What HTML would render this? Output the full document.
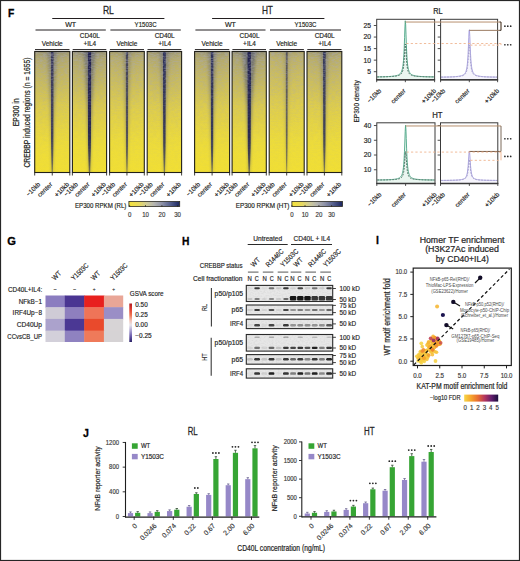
<!DOCTYPE html>
<html><head><meta charset="utf-8"><style>
html,body{margin:0;padding:0;background:#fff;width:520px;height:561px;overflow:hidden}
svg{display:block}
text{font-family:"Liberation Sans", sans-serif}
</style></head><body>
<svg width="520" height="561" viewBox="0 0 520 561">
<defs>
<linearGradient id="hmbase" x1="0" y1="0" x2="0" y2="1"><stop offset="0" stop-color="#cdbd62"/><stop offset="0.2" stop-color="#dac957"/><stop offset="0.5" stop-color="#e6d447"/><stop offset="0.75" stop-color="#eddc3b"/><stop offset="1" stop-color="#f1df34"/></linearGradient>
<linearGradient id="haze" x1="0" y1="0" x2="0" y2="1"><stop offset="0" stop-color="#686c80" stop-opacity="0.78"/><stop offset="0.06" stop-color="#767a8a" stop-opacity="0.52"/><stop offset="0.22" stop-color="#7a7c88" stop-opacity="0.36"/><stop offset="0.45" stop-color="#808080" stop-opacity="0.13"/><stop offset="0.72" stop-color="#808080" stop-opacity="0.02"/><stop offset="0.8" stop-color="#808080" stop-opacity="0"/></linearGradient>
<linearGradient id="hazeh" x1="0" y1="0" x2="1" y2="0"><stop offset="0" stop-color="#fff" stop-opacity="0.75"/><stop offset="0.5" stop-color="#fff" stop-opacity="1"/><stop offset="1" stop-color="#fff" stop-opacity="0.75"/></linearGradient>
<mask id="hazemask" maskContentUnits="objectBoundingBox"><rect width="1" height="1" fill="url(#hazeh)"/></mask>
<linearGradient id="corefade" x1="0" y1="0" x2="0" y2="1"><stop offset="0" stop-color="#fff" stop-opacity="1"/><stop offset="0.7" stop-color="#fff" stop-opacity="0.95"/><stop offset="0.9" stop-color="#fff" stop-opacity="0.75"/><stop offset="1" stop-color="#fff" stop-opacity="0.5"/></linearGradient>
<mask id="coremask" maskContentUnits="objectBoundingBox"><rect width="1" height="1" fill="url(#corefade)"/></mask>
<linearGradient id="noisev" x1="0" y1="0" x2="0" y2="1"><stop offset="0" stop-color="#fff"/><stop offset="0.3" stop-color="#fff" stop-opacity="0.5"/><stop offset="0.6" stop-color="#fff" stop-opacity="0.2"/><stop offset="1" stop-color="#fff" stop-opacity="0.06"/></linearGradient>
<mask id="noisemask" maskContentUnits="objectBoundingBox"><rect width="1" height="1" fill="url(#noisev)"/></mask>
<filter id="hmnoise" x="0" y="0" width="1" height="1"><feTurbulence type="fractalNoise" baseFrequency="0.28 0.75" numOctaves="2" seed="4" result="n"/><feColorMatrix in="n" type="matrix" values="0 0 0 0 0.40  0 0 0 0 0.40  0 0 0 0 0.48  0 0 0 -3.2 1.95"/></filter>
<filter id="coreblur" x="-100%" y="0" width="300%" height="1"><feGaussianBlur stdDeviation="0.45 0"/></filter>
<filter id="coneblur" x="-100%" y="-5%" width="300%" height="110%"><feGaussianBlur stdDeviation="1.8 0"/></filter>
<linearGradient id="epcb" x1="0" y1="0" x2="1" y2="0"><stop offset="0" stop-color="#f5e33a"/><stop offset="0.2" stop-color="#e8da60"/><stop offset="0.35" stop-color="#cfcb98"/><stop offset="0.5" stop-color="#b4b4b0"/><stop offset="0.65" stop-color="#8e92a8"/><stop offset="0.8" stop-color="#5a6490"/><stop offset="1" stop-color="#1a2560"/></linearGradient>
<linearGradient id="gsva" x1="0" y1="0" x2="0" y2="1"><stop offset="0" stop-color="#b01b22"/><stop offset="0.12" stop-color="#d8342a"/><stop offset="0.3" stop-color="#ef7250"/><stop offset="0.45" stop-color="#f0c4b8"/><stop offset="0.56" stop-color="#e6e4ea"/><stop offset="0.72" stop-color="#a49bce"/><stop offset="0.86" stop-color="#6656a8"/><stop offset="1" stop-color="#2b2366"/></linearGradient>
<filter id="bb" x="-50%" y="-100%" width="200%" height="300%"><feGaussianBlur stdDeviation="0.55"/></filter>
<filter id="bgn" x="0" y="0" width="1" height="1"><feTurbulence type="fractalNoise" baseFrequency="0.5 0.9" numOctaves="2" seed="9" result="n"/><feColorMatrix in="n" type="matrix" values="0 0 0 0 0.3  0 0 0 0 0.3  0 0 0 0 0.3  0 0 0 -2.5 1.5"/></filter>
<linearGradient id="infg" x1="0" y1="0" x2="1" y2="0"><stop offset="0.00" stop-color="#f6d648"/><stop offset="0.10" stop-color="#f6bd3a"/><stop offset="0.20" stop-color="#f6a52d"/><stop offset="0.30" stop-color="#ef892f"/><stop offset="0.40" stop-color="#e86e32"/><stop offset="0.50" stop-color="#ce5248"/><stop offset="0.60" stop-color="#b4375f"/><stop offset="0.70" stop-color="#8c2a66"/><stop offset="0.80" stop-color="#641e6e"/><stop offset="0.90" stop-color="#3e1655"/><stop offset="1.00" stop-color="#190f3c"/></linearGradient>
</defs>
<rect width="520" height="561" fill="#fff"/>
<text x="8.00" y="17.00" font-size="11.50" font-weight="bold" fill="#000" stroke="#000" stroke-width="0.30" textLength="6.30" lengthAdjust="spacingAndGlyphs">F</text>
<rect x="34.70" y="51.50" width="35.10" height="121.00" fill="url(#hmbase)"/>
<rect x="34.70" y="51.50" width="35.10" height="121.00" fill="url(#haze)" mask="url(#hazemask)" opacity="0.75"/>
<polygon points="47.75,51.50 56.75,51.50 54.55,105.95 52.85,172.50 51.65,172.50 49.95,105.95" fill="#5a5e78" opacity="0.45" filter="url(#coneblur)"/>
<g mask="url(#coremask)"><polygon points="50.75,51.50 53.75,51.50 53.45,145.88 52.85,172.50 51.65,172.50 51.05,145.88" fill="#34365a" opacity="0.95" filter="url(#coreblur)"/></g>
<g mask="url(#noisemask)"><rect x="34.70" y="51.50" width="35.10" height="121.00" fill="#000" filter="url(#hmnoise)" opacity="0.45"/></g>
<rect x="34.70" y="51.50" width="35.10" height="121.00" fill="none" stroke="#22211a" stroke-width="1.10"/>
<line x1="35.00" y1="49.60" x2="69.50" y2="49.60" stroke="#231f20" stroke-width="1.00"/>
<line x1="34.70" y1="172.50" x2="34.70" y2="175.50" stroke="#2b2a22" stroke-width="0.90"/>
<line x1="52.25" y1="172.50" x2="52.25" y2="175.50" stroke="#2b2a22" stroke-width="0.90"/>
<line x1="69.80" y1="172.50" x2="69.80" y2="175.50" stroke="#2b2a22" stroke-width="0.90"/>
<text transform="translate(40.70 184.80) rotate(-45)" font-size="6.50" text-anchor="end" fill="#262626" stroke="#262626" stroke-width="0.17" textLength="16.80" lengthAdjust="spacingAndGlyphs">−10kb</text>
<text transform="translate(52.75 184.80) rotate(-45)" font-size="6.50" text-anchor="end" fill="#262626" stroke="#262626" stroke-width="0.17" textLength="18.00" lengthAdjust="spacingAndGlyphs">center</text>
<text transform="translate(69.60 184.80) rotate(-45)" font-size="6.50" text-anchor="end" fill="#262626" stroke="#262626" stroke-width="0.17" textLength="17.90" lengthAdjust="spacingAndGlyphs">+10kb</text>
<rect x="72.40" y="51.50" width="34.20" height="121.00" fill="url(#hmbase)"/>
<rect x="72.40" y="51.50" width="34.20" height="121.00" fill="url(#haze)" mask="url(#hazemask)" opacity="0.85"/>
<polygon points="84.00,51.50 95.00,51.50 92.10,105.95 90.15,172.50 88.85,172.50 86.90,105.95" fill="#50546e" opacity="0.55" filter="url(#coneblur)"/>
<g mask="url(#coremask)"><polygon points="87.70,51.50 91.30,51.50 90.90,145.88 90.15,172.50 88.85,172.50 88.10,145.88" fill="#20244f" opacity="1.00" filter="url(#coreblur)"/></g>
<g mask="url(#noisemask)"><rect x="72.40" y="51.50" width="34.20" height="121.00" fill="#000" filter="url(#hmnoise)" opacity="0.45"/></g>
<rect x="72.40" y="51.50" width="34.20" height="121.00" fill="none" stroke="#22211a" stroke-width="1.10"/>
<line x1="72.70" y1="49.60" x2="106.30" y2="49.60" stroke="#231f20" stroke-width="1.00"/>
<line x1="72.40" y1="172.50" x2="72.40" y2="175.50" stroke="#2b2a22" stroke-width="0.90"/>
<line x1="89.50" y1="172.50" x2="89.50" y2="175.50" stroke="#2b2a22" stroke-width="0.90"/>
<line x1="106.60" y1="172.50" x2="106.60" y2="175.50" stroke="#2b2a22" stroke-width="0.90"/>
<text transform="translate(78.40 184.80) rotate(-45)" font-size="6.50" text-anchor="end" fill="#262626" stroke="#262626" stroke-width="0.17" textLength="16.80" lengthAdjust="spacingAndGlyphs">−10kb</text>
<text transform="translate(90.00 184.80) rotate(-45)" font-size="6.50" text-anchor="end" fill="#262626" stroke="#262626" stroke-width="0.17" textLength="18.00" lengthAdjust="spacingAndGlyphs">center</text>
<text transform="translate(106.40 184.80) rotate(-45)" font-size="6.50" text-anchor="end" fill="#262626" stroke="#262626" stroke-width="0.17" textLength="17.90" lengthAdjust="spacingAndGlyphs">+10kb</text>
<rect x="109.60" y="51.50" width="34.70" height="121.00" fill="url(#hmbase)"/>
<rect x="109.60" y="51.50" width="34.70" height="121.00" fill="url(#haze)" mask="url(#hazemask)" opacity="0.60"/>
<polygon points="123.45,51.50 130.45,51.50 129.05,105.95 127.50,172.50 126.40,172.50 124.85,105.95" fill="#60606c" opacity="0.40" filter="url(#coneblur)"/>
<g mask="url(#coremask)"><polygon points="125.65,51.50 128.25,51.50 128.00,145.88 127.50,172.50 126.40,172.50 125.90,145.88" fill="#3e3e56" opacity="0.90" filter="url(#coreblur)"/></g>
<g mask="url(#noisemask)"><rect x="109.60" y="51.50" width="34.70" height="121.00" fill="#000" filter="url(#hmnoise)" opacity="0.45"/></g>
<rect x="109.60" y="51.50" width="34.70" height="121.00" fill="none" stroke="#22211a" stroke-width="1.10"/>
<line x1="109.90" y1="49.60" x2="144.00" y2="49.60" stroke="#231f20" stroke-width="1.00"/>
<line x1="109.60" y1="172.50" x2="109.60" y2="175.50" stroke="#2b2a22" stroke-width="0.90"/>
<line x1="126.95" y1="172.50" x2="126.95" y2="175.50" stroke="#2b2a22" stroke-width="0.90"/>
<line x1="144.30" y1="172.50" x2="144.30" y2="175.50" stroke="#2b2a22" stroke-width="0.90"/>
<text transform="translate(115.60 184.80) rotate(-45)" font-size="6.50" text-anchor="end" fill="#262626" stroke="#262626" stroke-width="0.17" textLength="16.80" lengthAdjust="spacingAndGlyphs">−10kb</text>
<text transform="translate(127.45 184.80) rotate(-45)" font-size="6.50" text-anchor="end" fill="#262626" stroke="#262626" stroke-width="0.17" textLength="18.00" lengthAdjust="spacingAndGlyphs">center</text>
<text transform="translate(144.10 184.80) rotate(-45)" font-size="6.50" text-anchor="end" fill="#262626" stroke="#262626" stroke-width="0.17" textLength="17.90" lengthAdjust="spacingAndGlyphs">+10kb</text>
<rect x="147.20" y="51.50" width="34.40" height="121.00" fill="url(#hmbase)"/>
<rect x="147.20" y="51.50" width="34.40" height="121.00" fill="url(#haze)" mask="url(#hazemask)" opacity="0.70"/>
<polygon points="159.90,51.50 168.90,51.50 166.70,105.95 165.00,172.50 163.80,172.50 162.10,105.95" fill="#585c78" opacity="0.45" filter="url(#coneblur)"/>
<g mask="url(#coremask)"><polygon points="162.90,51.50 165.90,51.50 165.60,145.88 165.00,172.50 163.80,172.50 163.20,145.88" fill="#2a2d58" opacity="0.95" filter="url(#coreblur)"/></g>
<g mask="url(#noisemask)"><rect x="147.20" y="51.50" width="34.40" height="121.00" fill="#000" filter="url(#hmnoise)" opacity="0.45"/></g>
<rect x="147.20" y="51.50" width="34.40" height="121.00" fill="none" stroke="#22211a" stroke-width="1.10"/>
<line x1="147.50" y1="49.60" x2="181.30" y2="49.60" stroke="#231f20" stroke-width="1.00"/>
<line x1="147.20" y1="172.50" x2="147.20" y2="175.50" stroke="#2b2a22" stroke-width="0.90"/>
<line x1="164.40" y1="172.50" x2="164.40" y2="175.50" stroke="#2b2a22" stroke-width="0.90"/>
<line x1="181.60" y1="172.50" x2="181.60" y2="175.50" stroke="#2b2a22" stroke-width="0.90"/>
<text transform="translate(153.20 184.80) rotate(-45)" font-size="6.50" text-anchor="end" fill="#262626" stroke="#262626" stroke-width="0.17" textLength="16.80" lengthAdjust="spacingAndGlyphs">−10kb</text>
<text transform="translate(164.90 184.80) rotate(-45)" font-size="6.50" text-anchor="end" fill="#262626" stroke="#262626" stroke-width="0.17" textLength="18.00" lengthAdjust="spacingAndGlyphs">center</text>
<text transform="translate(181.40 184.80) rotate(-45)" font-size="6.50" text-anchor="end" fill="#262626" stroke="#262626" stroke-width="0.17" textLength="17.90" lengthAdjust="spacingAndGlyphs">+10kb</text>
<rect x="194.60" y="51.50" width="35.00" height="121.00" fill="url(#hmbase)"/>
<rect x="194.60" y="51.50" width="35.00" height="121.00" fill="url(#haze)" mask="url(#hazemask)" opacity="0.70"/>
<polygon points="208.10,51.50 216.10,51.50 214.40,105.95 212.70,172.50 211.50,172.50 209.80,105.95" fill="#5a5e78" opacity="0.45" filter="url(#coneblur)"/>
<g mask="url(#coremask)"><polygon points="210.60,51.50 213.60,51.50 213.30,145.88 212.70,172.50 211.50,172.50 210.90,145.88" fill="#2a2d58" opacity="0.95" filter="url(#coreblur)"/></g>
<g mask="url(#noisemask)"><rect x="194.60" y="51.50" width="35.00" height="121.00" fill="#000" filter="url(#hmnoise)" opacity="0.45"/></g>
<rect x="194.60" y="51.50" width="35.00" height="121.00" fill="none" stroke="#22211a" stroke-width="1.10"/>
<line x1="194.90" y1="49.60" x2="229.30" y2="49.60" stroke="#231f20" stroke-width="1.00"/>
<line x1="194.60" y1="172.50" x2="194.60" y2="175.50" stroke="#2b2a22" stroke-width="0.90"/>
<line x1="212.10" y1="172.50" x2="212.10" y2="175.50" stroke="#2b2a22" stroke-width="0.90"/>
<line x1="229.60" y1="172.50" x2="229.60" y2="175.50" stroke="#2b2a22" stroke-width="0.90"/>
<text transform="translate(200.60 184.80) rotate(-45)" font-size="6.50" text-anchor="end" fill="#262626" stroke="#262626" stroke-width="0.17" textLength="16.80" lengthAdjust="spacingAndGlyphs">−10kb</text>
<text transform="translate(212.60 184.80) rotate(-45)" font-size="6.50" text-anchor="end" fill="#262626" stroke="#262626" stroke-width="0.17" textLength="18.00" lengthAdjust="spacingAndGlyphs">center</text>
<text transform="translate(229.40 184.80) rotate(-45)" font-size="6.50" text-anchor="end" fill="#262626" stroke="#262626" stroke-width="0.17" textLength="17.90" lengthAdjust="spacingAndGlyphs">+10kb</text>
<rect x="232.10" y="51.50" width="34.20" height="121.00" fill="url(#hmbase)"/>
<rect x="232.10" y="51.50" width="34.20" height="121.00" fill="url(#haze)" mask="url(#hazemask)" opacity="0.90"/>
<polygon points="242.70,51.50 255.70,51.50 251.90,105.95 249.85,172.50 248.55,172.50 246.50,105.95" fill="#50546e" opacity="0.60" filter="url(#coneblur)"/>
<g mask="url(#coremask)"><polygon points="247.30,51.50 251.10,51.50 250.65,145.88 249.85,172.50 248.55,172.50 247.75,145.88" fill="#20244f" opacity="1.00" filter="url(#coreblur)"/></g>
<g mask="url(#noisemask)"><rect x="232.10" y="51.50" width="34.20" height="121.00" fill="#000" filter="url(#hmnoise)" opacity="0.45"/></g>
<rect x="232.10" y="51.50" width="34.20" height="121.00" fill="none" stroke="#22211a" stroke-width="1.10"/>
<line x1="232.40" y1="49.60" x2="266.00" y2="49.60" stroke="#231f20" stroke-width="1.00"/>
<line x1="232.10" y1="172.50" x2="232.10" y2="175.50" stroke="#2b2a22" stroke-width="0.90"/>
<line x1="249.20" y1="172.50" x2="249.20" y2="175.50" stroke="#2b2a22" stroke-width="0.90"/>
<line x1="266.30" y1="172.50" x2="266.30" y2="175.50" stroke="#2b2a22" stroke-width="0.90"/>
<text transform="translate(238.10 184.80) rotate(-45)" font-size="6.50" text-anchor="end" fill="#262626" stroke="#262626" stroke-width="0.17" textLength="16.80" lengthAdjust="spacingAndGlyphs">−10kb</text>
<text transform="translate(249.70 184.80) rotate(-45)" font-size="6.50" text-anchor="end" fill="#262626" stroke="#262626" stroke-width="0.17" textLength="18.00" lengthAdjust="spacingAndGlyphs">center</text>
<text transform="translate(266.10 184.80) rotate(-45)" font-size="6.50" text-anchor="end" fill="#262626" stroke="#262626" stroke-width="0.17" textLength="17.90" lengthAdjust="spacingAndGlyphs">+10kb</text>
<rect x="269.20" y="51.50" width="35.00" height="121.00" fill="url(#hmbase)"/>
<rect x="269.20" y="51.50" width="35.00" height="121.00" fill="url(#haze)" mask="url(#hazemask)" opacity="0.45"/>
<polygon points="284.20,51.50 289.20,51.50 288.60,105.95 287.20,172.50 286.20,172.50 284.80,105.95" fill="#707070" opacity="0.30" filter="url(#coneblur)"/>
<g mask="url(#coremask)"><polygon points="285.60,51.50 287.80,51.50 287.65,145.88 287.20,172.50 286.20,172.50 285.75,145.88" fill="#4a4858" opacity="0.85" filter="url(#coreblur)"/></g>
<g mask="url(#noisemask)"><rect x="269.20" y="51.50" width="35.00" height="121.00" fill="#000" filter="url(#hmnoise)" opacity="0.45"/></g>
<rect x="269.20" y="51.50" width="35.00" height="121.00" fill="none" stroke="#22211a" stroke-width="1.10"/>
<line x1="269.50" y1="49.60" x2="303.90" y2="49.60" stroke="#231f20" stroke-width="1.00"/>
<line x1="269.20" y1="172.50" x2="269.20" y2="175.50" stroke="#2b2a22" stroke-width="0.90"/>
<line x1="286.70" y1="172.50" x2="286.70" y2="175.50" stroke="#2b2a22" stroke-width="0.90"/>
<line x1="304.20" y1="172.50" x2="304.20" y2="175.50" stroke="#2b2a22" stroke-width="0.90"/>
<text transform="translate(275.20 184.80) rotate(-45)" font-size="6.50" text-anchor="end" fill="#262626" stroke="#262626" stroke-width="0.17" textLength="16.80" lengthAdjust="spacingAndGlyphs">−10kb</text>
<text transform="translate(287.20 184.80) rotate(-45)" font-size="6.50" text-anchor="end" fill="#262626" stroke="#262626" stroke-width="0.17" textLength="18.00" lengthAdjust="spacingAndGlyphs">center</text>
<text transform="translate(304.00 184.80) rotate(-45)" font-size="6.50" text-anchor="end" fill="#262626" stroke="#262626" stroke-width="0.17" textLength="17.90" lengthAdjust="spacingAndGlyphs">+10kb</text>
<rect x="307.00" y="51.50" width="34.80" height="121.00" fill="url(#hmbase)"/>
<rect x="307.00" y="51.50" width="34.80" height="121.00" fill="url(#haze)" mask="url(#hazemask)" opacity="0.60"/>
<polygon points="320.40,51.50 328.40,51.50 326.60,105.95 324.95,172.50 323.85,172.50 322.20,105.95" fill="#5c5e78" opacity="0.42" filter="url(#coneblur)"/>
<g mask="url(#coremask)"><polygon points="323.00,51.50 325.80,51.50 325.55,145.88 324.95,172.50 323.85,172.50 323.25,145.88" fill="#2d3058" opacity="0.92" filter="url(#coreblur)"/></g>
<g mask="url(#noisemask)"><rect x="307.00" y="51.50" width="34.80" height="121.00" fill="#000" filter="url(#hmnoise)" opacity="0.45"/></g>
<rect x="307.00" y="51.50" width="34.80" height="121.00" fill="none" stroke="#22211a" stroke-width="1.10"/>
<line x1="307.30" y1="49.60" x2="341.50" y2="49.60" stroke="#231f20" stroke-width="1.00"/>
<line x1="307.00" y1="172.50" x2="307.00" y2="175.50" stroke="#2b2a22" stroke-width="0.90"/>
<line x1="324.40" y1="172.50" x2="324.40" y2="175.50" stroke="#2b2a22" stroke-width="0.90"/>
<line x1="341.80" y1="172.50" x2="341.80" y2="175.50" stroke="#2b2a22" stroke-width="0.90"/>
<text transform="translate(313.00 184.80) rotate(-45)" font-size="6.50" text-anchor="end" fill="#262626" stroke="#262626" stroke-width="0.17" textLength="16.80" lengthAdjust="spacingAndGlyphs">−10kb</text>
<text transform="translate(324.90 184.80) rotate(-45)" font-size="6.50" text-anchor="end" fill="#262626" stroke="#262626" stroke-width="0.17" textLength="18.00" lengthAdjust="spacingAndGlyphs">center</text>
<text transform="translate(341.60 184.80) rotate(-45)" font-size="6.50" text-anchor="end" fill="#262626" stroke="#262626" stroke-width="0.17" textLength="17.90" lengthAdjust="spacingAndGlyphs">+10kb</text>
<text x="108.40" y="13.90" font-size="10.40" text-anchor="middle" fill="#262626" stroke="#262626" stroke-width="0.27" textLength="11.00" lengthAdjust="spacingAndGlyphs">RL</text>
<line x1="52.25" y1="18.50" x2="164.40" y2="18.50" stroke="#231f20" stroke-width="1.00"/>
<text x="70.65" y="26.50" font-size="7.40" text-anchor="middle" fill="#231f20" stroke="#231f20" stroke-width="0.19" textLength="11.00" lengthAdjust="spacingAndGlyphs">WT</text>
<line x1="35.50" y1="30.00" x2="105.80" y2="30.00" stroke="#231f20" stroke-width="1.00"/>
<text x="145.60" y="26.50" font-size="7.40" text-anchor="middle" fill="#231f20" stroke="#231f20" stroke-width="0.19" textLength="22.00" lengthAdjust="spacingAndGlyphs">Y1503C</text>
<line x1="110.40" y1="30.00" x2="180.80" y2="30.00" stroke="#231f20" stroke-width="1.00"/>
<text x="52.25" y="45.80" font-size="7.40" text-anchor="middle" fill="#231f20" stroke="#231f20" stroke-width="0.19" textLength="21.00" lengthAdjust="spacingAndGlyphs">Vehicle</text>
<text x="126.95" y="45.80" font-size="7.40" text-anchor="middle" fill="#231f20" stroke="#231f20" stroke-width="0.19" textLength="21.00" lengthAdjust="spacingAndGlyphs">Vehicle</text>
<text x="89.80" y="38.20" font-size="7.40" text-anchor="middle" fill="#231f20" stroke="#231f20" stroke-width="0.19" textLength="20.00" lengthAdjust="spacingAndGlyphs">CD40L</text>
<text x="89.80" y="45.80" font-size="7.40" text-anchor="middle" fill="#231f20" stroke="#231f20" stroke-width="0.19" textLength="12.80" lengthAdjust="spacingAndGlyphs">+IL4</text>
<text x="164.70" y="38.20" font-size="7.40" text-anchor="middle" fill="#231f20" stroke="#231f20" stroke-width="0.19" textLength="20.00" lengthAdjust="spacingAndGlyphs">CD40L</text>
<text x="164.70" y="45.80" font-size="7.40" text-anchor="middle" fill="#231f20" stroke="#231f20" stroke-width="0.19" textLength="12.80" lengthAdjust="spacingAndGlyphs">+IL4</text>
<text x="267.40" y="13.90" font-size="10.40" text-anchor="middle" fill="#262626" stroke="#262626" stroke-width="0.27" textLength="11.00" lengthAdjust="spacingAndGlyphs">HT</text>
<line x1="212.10" y1="18.50" x2="324.40" y2="18.50" stroke="#231f20" stroke-width="1.00"/>
<text x="230.45" y="26.50" font-size="7.40" text-anchor="middle" fill="#231f20" stroke="#231f20" stroke-width="0.19" textLength="11.00" lengthAdjust="spacingAndGlyphs">WT</text>
<line x1="195.40" y1="30.00" x2="265.50" y2="30.00" stroke="#231f20" stroke-width="1.00"/>
<text x="305.50" y="26.50" font-size="7.40" text-anchor="middle" fill="#231f20" stroke="#231f20" stroke-width="0.19" textLength="22.00" lengthAdjust="spacingAndGlyphs">Y1503C</text>
<line x1="270.00" y1="30.00" x2="341.00" y2="30.00" stroke="#231f20" stroke-width="1.00"/>
<text x="212.10" y="45.80" font-size="7.40" text-anchor="middle" fill="#231f20" stroke="#231f20" stroke-width="0.19" textLength="21.00" lengthAdjust="spacingAndGlyphs">Vehicle</text>
<text x="286.70" y="45.80" font-size="7.40" text-anchor="middle" fill="#231f20" stroke="#231f20" stroke-width="0.19" textLength="21.00" lengthAdjust="spacingAndGlyphs">Vehicle</text>
<text x="249.50" y="38.20" font-size="7.40" text-anchor="middle" fill="#231f20" stroke="#231f20" stroke-width="0.19" textLength="20.00" lengthAdjust="spacingAndGlyphs">CD40L</text>
<text x="249.50" y="45.80" font-size="7.40" text-anchor="middle" fill="#231f20" stroke="#231f20" stroke-width="0.19" textLength="12.80" lengthAdjust="spacingAndGlyphs">+IL4</text>
<text x="324.70" y="38.20" font-size="7.40" text-anchor="middle" fill="#231f20" stroke="#231f20" stroke-width="0.19" textLength="20.00" lengthAdjust="spacingAndGlyphs">CD40L</text>
<text x="324.70" y="45.80" font-size="7.40" text-anchor="middle" fill="#231f20" stroke="#231f20" stroke-width="0.19" textLength="12.80" lengthAdjust="spacingAndGlyphs">+IL4</text>
<text transform="translate(19.40 112.30) rotate(-90)" font-size="8.30" text-anchor="middle" fill="#231f20" stroke="#231f20" stroke-width="0.21" textLength="28.00" lengthAdjust="spacingAndGlyphs">EP300 in</text>
<text transform="translate(29.50 112.50) rotate(-90)" font-size="8.30" text-anchor="middle" fill="#231f20" stroke="#231f20" stroke-width="0.21" textLength="110.00" lengthAdjust="spacingAndGlyphs">CREBBP induced regions (n = 1655)</text>
<rect x="128.90" y="201.50" width="50.80" height="5.00" fill="url(#epcb)" stroke="#2b2a22" stroke-width="0.80"/>
<text x="126.40" y="207.60" font-size="6.60" text-anchor="end" fill="#231f20" stroke="#231f20" stroke-width="0.17" textLength="51.40" lengthAdjust="spacingAndGlyphs">EP300 RPKM (RL)</text>
<line x1="129.60" y1="205.00" x2="129.60" y2="207.00" stroke="#2b2a22" stroke-width="0.70"/>
<text x="129.60" y="217.30" font-size="6.60" text-anchor="middle" fill="#3a3a3a" stroke="#3a3a3a" stroke-width="0.17" textLength="3.38" lengthAdjust="spacingAndGlyphs">0</text>
<line x1="145.50" y1="205.00" x2="145.50" y2="207.00" stroke="#2b2a22" stroke-width="0.70"/>
<text x="145.50" y="217.30" font-size="6.60" text-anchor="middle" fill="#3a3a3a" stroke="#3a3a3a" stroke-width="0.17" textLength="6.75" lengthAdjust="spacingAndGlyphs">10</text>
<line x1="161.90" y1="205.00" x2="161.90" y2="207.00" stroke="#2b2a22" stroke-width="0.70"/>
<text x="161.90" y="217.30" font-size="6.60" text-anchor="middle" fill="#3a3a3a" stroke="#3a3a3a" stroke-width="0.17" textLength="6.75" lengthAdjust="spacingAndGlyphs">20</text>
<line x1="177.60" y1="205.00" x2="177.60" y2="207.00" stroke="#2b2a22" stroke-width="0.70"/>
<text x="177.60" y="217.30" font-size="6.60" text-anchor="middle" fill="#3a3a3a" stroke="#3a3a3a" stroke-width="0.17" textLength="6.75" lengthAdjust="spacingAndGlyphs">30</text>
<rect x="291.90" y="201.50" width="50.60" height="5.00" fill="url(#epcb)" stroke="#2b2a22" stroke-width="0.80"/>
<text x="289.40" y="207.60" font-size="6.60" text-anchor="end" fill="#231f20" stroke="#231f20" stroke-width="0.17" textLength="53.60" lengthAdjust="spacingAndGlyphs">EP300 RPKM (HT)</text>
<line x1="291.90" y1="205.00" x2="291.90" y2="207.00" stroke="#2b2a22" stroke-width="0.70"/>
<text x="291.90" y="217.30" font-size="6.60" text-anchor="middle" fill="#3a3a3a" stroke="#3a3a3a" stroke-width="0.17" textLength="3.38" lengthAdjust="spacingAndGlyphs">0</text>
<line x1="305.00" y1="205.00" x2="305.00" y2="207.00" stroke="#2b2a22" stroke-width="0.70"/>
<text x="305.00" y="217.30" font-size="6.60" text-anchor="middle" fill="#3a3a3a" stroke="#3a3a3a" stroke-width="0.17" textLength="6.75" lengthAdjust="spacingAndGlyphs">10</text>
<line x1="318.90" y1="205.00" x2="318.90" y2="207.00" stroke="#2b2a22" stroke-width="0.70"/>
<text x="318.90" y="217.30" font-size="6.60" text-anchor="middle" fill="#3a3a3a" stroke="#3a3a3a" stroke-width="0.17" textLength="6.75" lengthAdjust="spacingAndGlyphs">20</text>
<line x1="331.60" y1="205.00" x2="331.60" y2="207.00" stroke="#2b2a22" stroke-width="0.70"/>
<text x="331.60" y="217.30" font-size="6.60" text-anchor="middle" fill="#3a3a3a" stroke="#3a3a3a" stroke-width="0.17" textLength="6.75" lengthAdjust="spacingAndGlyphs">30</text>
<polygon points="377.20,79.80 377.20,76.86 377.56,76.86 377.91,76.85 378.27,76.85 378.62,76.84 378.98,76.83 379.33,76.83 379.69,76.82 380.05,76.82 380.40,76.81 380.76,76.80 381.11,76.80 381.47,76.79 381.82,76.78 382.18,76.77 382.53,76.76 382.89,76.75 383.25,76.75 383.60,76.74 383.96,76.73 384.31,76.72 384.67,76.70 385.02,76.69 385.38,76.68 385.74,76.67 386.09,76.65 386.45,76.64 386.80,76.63 387.16,76.61 387.51,76.59 387.87,76.58 388.22,76.56 388.58,76.54 388.94,76.52 389.29,76.50 389.65,76.48 390.00,76.45 390.36,76.43 390.71,76.40 391.07,76.38 391.43,76.35 391.78,76.31 392.14,76.28 392.49,76.24 392.85,76.21 393.20,76.17 393.56,76.12 393.91,76.07 394.27,76.02 394.63,75.97 394.98,75.91 395.34,75.84 395.69,75.77 396.05,75.69 396.40,75.61 396.76,75.51 397.12,75.41 397.47,75.29 397.83,75.16 398.18,75.01 398.54,74.84 398.89,74.65 399.25,74.42 399.60,74.16 399.96,73.86 400.32,73.49 400.67,73.06 401.03,72.52 401.38,71.86 401.74,71.02 402.09,69.95 402.45,68.54 402.81,66.65 403.16,64.04 403.52,60.36 403.87,55.11 404.23,47.64 404.58,37.68 404.94,26.94 405.29,20.79 405.35,22.04 405.65,24.20 406.01,34.23 406.36,44.77 406.72,53.04 407.07,58.92 407.43,63.02 407.78,65.92 408.14,68.01 408.50,69.55 408.85,70.72 409.21,71.62 409.56,72.33 409.92,72.90 410.27,73.37 410.63,73.75 410.98,74.07 411.34,74.35 411.70,74.58 412.05,74.78 412.41,74.96 412.76,75.11 413.12,75.25 413.47,75.37 413.83,75.48 414.19,75.58 414.54,75.67 414.90,75.75 415.25,75.82 415.61,75.89 415.96,75.95 416.32,76.01 416.67,76.06 417.03,76.11 417.39,76.15 417.74,76.19 418.10,76.23 418.45,76.27 418.81,76.30 419.16,76.34 419.52,76.37 419.88,76.39 420.23,76.42 420.59,76.45 420.94,76.47 421.30,76.49 421.65,76.51 422.01,76.53 422.36,76.55 422.72,76.57 423.08,76.59 423.43,76.61 423.79,76.62 424.14,76.64 424.50,76.65 424.85,76.66 425.21,76.68 425.56,76.69 425.92,76.70 426.28,76.71 426.63,76.72 426.99,76.73 427.34,76.74 427.70,76.75 428.05,76.76 428.41,76.77 428.77,76.78 429.12,76.79 429.48,76.79 429.83,76.80 430.19,76.81 430.54,76.81 430.90,76.82 431.25,76.83 431.61,76.83 431.97,76.84 432.32,76.84 432.68,76.85 433.03,76.85 433.39,76.86 433.74,76.86 434.10,76.87 434.10,79.80" fill="#eaf6f0"/>
<polyline points="377.20,76.86 377.56,76.86 377.91,76.85 378.27,76.85 378.62,76.84 378.98,76.83 379.33,76.83 379.69,76.82 380.05,76.82 380.40,76.81 380.76,76.80 381.11,76.80 381.47,76.79 381.82,76.78 382.18,76.77 382.53,76.76 382.89,76.75 383.25,76.75 383.60,76.74 383.96,76.73 384.31,76.72 384.67,76.70 385.02,76.69 385.38,76.68 385.74,76.67 386.09,76.65 386.45,76.64 386.80,76.63 387.16,76.61 387.51,76.59 387.87,76.58 388.22,76.56 388.58,76.54 388.94,76.52 389.29,76.50 389.65,76.48 390.00,76.45 390.36,76.43 390.71,76.40 391.07,76.38 391.43,76.35 391.78,76.31 392.14,76.28 392.49,76.24 392.85,76.21 393.20,76.17 393.56,76.12 393.91,76.07 394.27,76.02 394.63,75.97 394.98,75.91 395.34,75.84 395.69,75.77 396.05,75.69 396.40,75.61 396.76,75.51 397.12,75.41 397.47,75.29 397.83,75.16 398.18,75.01 398.54,74.84 398.89,74.65 399.25,74.42 399.60,74.16 399.96,73.86 400.32,73.49 400.67,73.06 401.03,72.52 401.38,71.86 401.74,71.02 402.09,69.95 402.45,68.54 402.81,66.65 403.16,64.04 403.52,60.36 403.87,55.11 404.23,47.64 404.58,37.68 404.94,26.94 405.29,20.79 405.35,22.04 405.65,24.20 406.01,34.23 406.36,44.77 406.72,53.04 407.07,58.92 407.43,63.02 407.78,65.92 408.14,68.01 408.50,69.55 408.85,70.72 409.21,71.62 409.56,72.33 409.92,72.90 410.27,73.37 410.63,73.75 410.98,74.07 411.34,74.35 411.70,74.58 412.05,74.78 412.41,74.96 412.76,75.11 413.12,75.25 413.47,75.37 413.83,75.48 414.19,75.58 414.54,75.67 414.90,75.75 415.25,75.82 415.61,75.89 415.96,75.95 416.32,76.01 416.67,76.06 417.03,76.11 417.39,76.15 417.74,76.19 418.10,76.23 418.45,76.27 418.81,76.30 419.16,76.34 419.52,76.37 419.88,76.39 420.23,76.42 420.59,76.45 420.94,76.47 421.30,76.49 421.65,76.51 422.01,76.53 422.36,76.55 422.72,76.57 423.08,76.59 423.43,76.61 423.79,76.62 424.14,76.64 424.50,76.65 424.85,76.66 425.21,76.68 425.56,76.69 425.92,76.70 426.28,76.71 426.63,76.72 426.99,76.73 427.34,76.74 427.70,76.75 428.05,76.76 428.41,76.77 428.77,76.78 429.12,76.79 429.48,76.79 429.83,76.80 430.19,76.81 430.54,76.81 430.90,76.82 431.25,76.83 431.61,76.83 431.97,76.84 432.32,76.84 432.68,76.85 433.03,76.85 433.39,76.86 433.74,76.86 434.10,76.87" fill="none" stroke="#4aa585" stroke-width="0.9"/>
<polyline points="377.20,76.90 377.56,76.90 377.91,76.89 378.27,76.89 378.62,76.88 378.98,76.88 379.33,76.87 379.69,76.87 380.05,76.86 380.40,76.86 380.76,76.85 381.11,76.85 381.47,76.84 381.82,76.84 382.18,76.83 382.53,76.82 382.89,76.82 383.25,76.81 383.60,76.80 383.96,76.79 384.31,76.78 384.67,76.78 385.02,76.77 385.38,76.76 385.74,76.75 386.09,76.74 386.45,76.73 386.80,76.72 387.16,76.70 387.51,76.69 387.87,76.68 388.22,76.66 388.58,76.65 388.94,76.63 389.29,76.62 389.65,76.60 390.00,76.58 390.36,76.57 390.71,76.55 391.07,76.53 391.43,76.50 391.78,76.48 392.14,76.46 392.49,76.43 392.85,76.40 393.20,76.37 393.56,76.34 393.91,76.31 394.27,76.27 394.63,76.23 394.98,76.19 395.34,76.15 395.69,76.10 396.05,76.04 396.40,75.99 396.76,75.92 397.12,75.85 397.47,75.78 397.83,75.69 398.18,75.59 398.54,75.49 398.89,75.36 399.25,75.22 399.60,75.06 399.96,74.87 400.32,74.65 400.67,74.39 401.03,74.06 401.38,73.67 401.74,73.17 402.09,72.54 402.45,71.71 402.81,70.60 403.16,69.08 403.52,66.95 403.87,63.90 404.23,59.58 404.58,53.83 404.94,47.63 405.29,44.06 405.35,45.37 405.65,46.04 406.01,51.84 406.36,57.93 406.72,62.71 407.07,66.11 407.43,68.49 407.78,70.18 408.14,71.40 408.50,72.30 408.85,72.99 409.21,73.53 409.56,73.95 409.92,74.29 410.27,74.57 410.63,74.81 410.98,75.01 411.34,75.18 411.70,75.32 412.05,75.45 412.41,75.56 412.76,75.66 413.12,75.75 413.47,75.83 413.83,75.90 414.19,75.97 414.54,76.03 414.90,76.08 415.25,76.13 415.61,76.18 415.96,76.22 416.32,76.26 416.67,76.30 417.03,76.33 417.39,76.36 417.74,76.39 418.10,76.42 418.45,76.45 418.81,76.47 419.16,76.50 419.52,76.52 419.88,76.54 420.23,76.56 420.59,76.58 420.94,76.60 421.30,76.61 421.65,76.63 422.01,76.65 422.36,76.66 422.72,76.67 423.08,76.69 423.43,76.70 423.79,76.71 424.14,76.72 424.50,76.73 424.85,76.74 425.21,76.75 425.56,76.76 425.92,76.77 426.28,76.78 426.63,76.79 426.99,76.80 427.34,76.81 427.70,76.81 428.05,76.82 428.41,76.83 428.77,76.83 429.12,76.84 429.48,76.85 429.83,76.85 430.19,76.86 430.54,76.86 430.90,76.87 431.25,76.87 431.61,76.88 431.97,76.88 432.32,76.89 432.68,76.89 433.03,76.89 433.39,76.90 433.74,76.90 434.10,76.91" fill="none" stroke="#3f6356" stroke-width="0.9" stroke-dasharray="1.8 1.2"/>
<rect x="376.70" y="19.30" width="57.90" height="60.50" fill="none" stroke="#3a3a3a" stroke-width="1.00"/>
<line x1="376.20" y1="79.80" x2="435.10" y2="79.80" stroke="#3a3a3a" stroke-width="1.40"/>
<line x1="373.80" y1="71.70" x2="376.70" y2="71.70" stroke="#3a3a3a" stroke-width="0.90"/>
<text x="371.10" y="74.10" font-size="7.00" text-anchor="end" fill="#262626" stroke="#262626" stroke-width="0.18" textLength="3.78" lengthAdjust="spacingAndGlyphs">5</text>
<line x1="373.80" y1="60.15" x2="376.70" y2="60.15" stroke="#3a3a3a" stroke-width="0.90"/>
<text x="371.10" y="62.55" font-size="7.00" text-anchor="end" fill="#262626" stroke="#262626" stroke-width="0.18" textLength="7.55" lengthAdjust="spacingAndGlyphs">10</text>
<line x1="373.80" y1="48.60" x2="376.70" y2="48.60" stroke="#3a3a3a" stroke-width="0.90"/>
<text x="371.10" y="51.00" font-size="7.00" text-anchor="end" fill="#262626" stroke="#262626" stroke-width="0.18" textLength="7.55" lengthAdjust="spacingAndGlyphs">15</text>
<line x1="373.80" y1="37.05" x2="376.70" y2="37.05" stroke="#3a3a3a" stroke-width="0.90"/>
<text x="371.10" y="39.45" font-size="7.00" text-anchor="end" fill="#262626" stroke="#262626" stroke-width="0.18" textLength="7.55" lengthAdjust="spacingAndGlyphs">20</text>
<line x1="373.80" y1="25.50" x2="376.70" y2="25.50" stroke="#3a3a3a" stroke-width="0.90"/>
<text x="371.10" y="27.90" font-size="7.00" text-anchor="end" fill="#262626" stroke="#262626" stroke-width="0.18" textLength="7.55" lengthAdjust="spacingAndGlyphs">25</text>
<line x1="376.70" y1="79.80" x2="376.70" y2="82.20" stroke="#3a3a3a" stroke-width="0.90"/>
<line x1="405.35" y1="79.80" x2="405.35" y2="82.20" stroke="#3a3a3a" stroke-width="0.90"/>
<line x1="434.60" y1="79.80" x2="434.60" y2="82.20" stroke="#3a3a3a" stroke-width="0.90"/>
<text transform="translate(381.70 91.30) rotate(-45)" font-size="6.50" text-anchor="end" fill="#262626" stroke="#262626" stroke-width="0.17" textLength="16.80" lengthAdjust="spacingAndGlyphs">−10kb</text>
<text transform="translate(406.15 91.30) rotate(-45)" font-size="6.50" text-anchor="end" fill="#262626" stroke="#262626" stroke-width="0.17" textLength="18.00" lengthAdjust="spacingAndGlyphs">center</text>
<text transform="translate(436.60 91.30) rotate(-45)" font-size="6.50" text-anchor="end" fill="#262626" stroke="#262626" stroke-width="0.17" textLength="17.90" lengthAdjust="spacingAndGlyphs">+10kb</text>
<polygon points="441.10,79.80 441.10,77.11 441.45,77.10 441.80,77.10 442.15,77.09 442.50,77.09 442.85,77.08 443.20,77.08 443.55,77.07 443.90,77.07 444.25,77.06 444.60,77.05 444.95,77.05 445.30,77.04 445.65,77.03 446.00,77.03 446.35,77.02 446.70,77.01 447.05,77.00 447.40,76.99 447.75,76.98 448.10,76.97 448.45,76.97 448.80,76.95 449.15,76.94 449.50,76.93 449.85,76.92 450.20,76.91 450.55,76.90 450.90,76.88 451.25,76.87 451.60,76.85 451.95,76.84 452.30,76.82 452.65,76.80 453.00,76.79 453.35,76.77 453.70,76.75 454.05,76.72 454.40,76.70 454.75,76.68 455.10,76.65 455.45,76.63 455.80,76.60 456.15,76.57 456.50,76.53 456.85,76.50 457.20,76.46 457.55,76.42 457.90,76.38 458.25,76.34 458.60,76.29 458.95,76.23 459.30,76.18 459.65,76.11 460.00,76.04 460.35,75.97 460.70,75.89 461.05,75.80 461.40,75.69 461.75,75.58 462.10,75.45 462.45,75.31 462.80,75.15 463.15,74.96 463.50,74.74 463.85,74.49 464.20,74.19 464.55,73.83 464.90,73.40 465.25,72.86 465.60,72.19 465.95,71.35 466.30,70.24 466.65,68.78 467.00,66.79 467.35,64.03 467.70,60.11 468.05,54.54 468.40,46.91 468.75,37.78 469.10,30.37 469.30,30.35 469.45,29.77 469.80,36.50 470.15,45.66 470.50,53.58 470.85,59.43 471.20,63.55 471.55,66.45 471.90,68.53 472.25,70.06 472.60,71.21 472.95,72.09 473.30,72.78 473.65,73.33 474.00,73.77 474.35,74.14 474.70,74.45 475.05,74.71 475.40,74.93 475.75,75.12 476.10,75.29 476.45,75.44 476.80,75.56 477.15,75.68 477.50,75.78 477.85,75.87 478.20,75.96 478.55,76.03 478.90,76.10 479.25,76.17 479.60,76.23 479.95,76.28 480.30,76.33 480.65,76.37 481.00,76.42 481.35,76.46 481.70,76.49 482.05,76.53 482.40,76.56 482.75,76.59 483.10,76.62 483.45,76.65 483.80,76.67 484.15,76.70 484.50,76.72 484.85,76.74 485.20,76.76 485.55,76.78 485.90,76.80 486.25,76.82 486.60,76.83 486.95,76.85 487.30,76.87 487.65,76.88 488.00,76.89 488.35,76.91 488.70,76.92 489.05,76.93 489.40,76.94 489.75,76.95 490.10,76.96 490.45,76.97 490.80,76.98 491.15,76.99 491.50,77.00 491.85,77.01 492.20,77.02 492.55,77.02 492.90,77.03 493.25,77.04 493.60,77.05 493.95,77.05 494.30,77.06 494.65,77.06 495.00,77.07 495.35,77.08 495.70,77.08 496.05,77.09 496.40,77.09 496.75,77.10 497.10,77.10 497.10,79.80" fill="#f6f5fc"/>
<polyline points="441.10,77.11 441.45,77.10 441.80,77.10 442.15,77.09 442.50,77.09 442.85,77.08 443.20,77.08 443.55,77.07 443.90,77.07 444.25,77.06 444.60,77.05 444.95,77.05 445.30,77.04 445.65,77.03 446.00,77.03 446.35,77.02 446.70,77.01 447.05,77.00 447.40,76.99 447.75,76.98 448.10,76.97 448.45,76.97 448.80,76.95 449.15,76.94 449.50,76.93 449.85,76.92 450.20,76.91 450.55,76.90 450.90,76.88 451.25,76.87 451.60,76.85 451.95,76.84 452.30,76.82 452.65,76.80 453.00,76.79 453.35,76.77 453.70,76.75 454.05,76.72 454.40,76.70 454.75,76.68 455.10,76.65 455.45,76.63 455.80,76.60 456.15,76.57 456.50,76.53 456.85,76.50 457.20,76.46 457.55,76.42 457.90,76.38 458.25,76.34 458.60,76.29 458.95,76.23 459.30,76.18 459.65,76.11 460.00,76.04 460.35,75.97 460.70,75.89 461.05,75.80 461.40,75.69 461.75,75.58 462.10,75.45 462.45,75.31 462.80,75.15 463.15,74.96 463.50,74.74 463.85,74.49 464.20,74.19 464.55,73.83 464.90,73.40 465.25,72.86 465.60,72.19 465.95,71.35 466.30,70.24 466.65,68.78 467.00,66.79 467.35,64.03 467.70,60.11 468.05,54.54 468.40,46.91 468.75,37.78 469.10,30.37 469.30,30.35 469.45,29.77 469.80,36.50 470.15,45.66 470.50,53.58 470.85,59.43 471.20,63.55 471.55,66.45 471.90,68.53 472.25,70.06 472.60,71.21 472.95,72.09 473.30,72.78 473.65,73.33 474.00,73.77 474.35,74.14 474.70,74.45 475.05,74.71 475.40,74.93 475.75,75.12 476.10,75.29 476.45,75.44 476.80,75.56 477.15,75.68 477.50,75.78 477.85,75.87 478.20,75.96 478.55,76.03 478.90,76.10 479.25,76.17 479.60,76.23 479.95,76.28 480.30,76.33 480.65,76.37 481.00,76.42 481.35,76.46 481.70,76.49 482.05,76.53 482.40,76.56 482.75,76.59 483.10,76.62 483.45,76.65 483.80,76.67 484.15,76.70 484.50,76.72 484.85,76.74 485.20,76.76 485.55,76.78 485.90,76.80 486.25,76.82 486.60,76.83 486.95,76.85 487.30,76.87 487.65,76.88 488.00,76.89 488.35,76.91 488.70,76.92 489.05,76.93 489.40,76.94 489.75,76.95 490.10,76.96 490.45,76.97 490.80,76.98 491.15,76.99 491.50,77.00 491.85,77.01 492.20,77.02 492.55,77.02 492.90,77.03 493.25,77.04 493.60,77.05 493.95,77.05 494.30,77.06 494.65,77.06 495.00,77.07 495.35,77.08 495.70,77.08 496.05,77.09 496.40,77.09 496.75,77.10 497.10,77.10" fill="none" stroke="#a39bdc" stroke-width="0.9"/>
<polyline points="441.10,77.13 441.45,77.13 441.80,77.12 442.15,77.12 442.50,77.12 442.85,77.11 443.20,77.11 443.55,77.10 443.90,77.10 444.25,77.09 444.60,77.09 444.95,77.08 445.30,77.08 445.65,77.07 446.00,77.06 446.35,77.06 446.70,77.05 447.05,77.04 447.40,77.04 447.75,77.03 448.10,77.02 448.45,77.01 448.80,77.00 449.15,76.99 449.50,76.98 449.85,76.97 450.20,76.96 450.55,76.95 450.90,76.94 451.25,76.93 451.60,76.92 451.95,76.90 452.30,76.89 452.65,76.88 453.00,76.86 453.35,76.85 453.70,76.83 454.05,76.81 454.40,76.79 454.75,76.77 455.10,76.75 455.45,76.73 455.80,76.71 456.15,76.68 456.50,76.66 456.85,76.63 457.20,76.60 457.55,76.57 457.90,76.54 458.25,76.50 458.60,76.46 458.95,76.42 459.30,76.38 459.65,76.33 460.00,76.28 460.35,76.22 460.70,76.16 461.05,76.09 461.40,76.02 461.75,75.93 462.10,75.84 462.45,75.74 462.80,75.62 463.15,75.48 463.50,75.33 463.85,75.15 464.20,74.94 464.55,74.69 464.90,74.39 465.25,74.02 465.60,73.56 465.95,72.98 466.30,72.23 466.65,71.23 467.00,69.89 467.35,68.02 467.70,65.38 468.05,61.64 468.40,56.51 468.75,50.37 469.10,45.39 469.30,45.83 469.45,44.99 469.80,49.51 470.15,55.67 470.50,60.99 470.85,64.92 471.20,67.70 471.55,69.66 471.90,71.07 472.25,72.10 472.60,72.88 472.95,73.48 473.30,73.96 473.65,74.34 474.00,74.65 474.35,74.90 474.70,75.12 475.05,75.30 475.40,75.46 475.75,75.60 476.10,75.72 476.45,75.83 476.80,75.92 477.15,76.00 477.50,76.08 477.85,76.15 478.20,76.21 478.55,76.27 478.90,76.32 479.25,76.37 479.60,76.42 479.95,76.46 480.30,76.50 480.65,76.53 481.00,76.57 481.35,76.60 481.70,76.63 482.05,76.65 482.40,76.68 482.75,76.71 483.10,76.73 483.45,76.75 483.80,76.77 484.15,76.79 484.50,76.81 484.85,76.83 485.20,76.84 485.55,76.86 485.90,76.87 486.25,76.89 486.60,76.90 486.95,76.92 487.30,76.93 487.65,76.94 488.00,76.95 488.35,76.96 488.70,76.97 489.05,76.98 489.40,76.99 489.75,77.00 490.10,77.01 490.45,77.02 490.80,77.03 491.15,77.03 491.50,77.04 491.85,77.05 492.20,77.06 492.55,77.06 492.90,77.07 493.25,77.07 493.60,77.08 493.95,77.09 494.30,77.09 494.65,77.10 495.00,77.10 495.35,77.11 495.70,77.11 496.05,77.12 496.40,77.12 496.75,77.12 497.10,77.13" fill="none" stroke="#a09cc8" stroke-width="0.9" stroke-dasharray="1.8 1.2"/>
<rect x="440.60" y="19.30" width="57.00" height="60.50" fill="none" stroke="#3a3a3a" stroke-width="1.00"/>
<line x1="440.10" y1="79.80" x2="498.10" y2="79.80" stroke="#3a3a3a" stroke-width="1.40"/>
<line x1="437.70" y1="71.70" x2="440.60" y2="71.70" stroke="#3a3a3a" stroke-width="0.90"/>
<line x1="437.70" y1="60.15" x2="440.60" y2="60.15" stroke="#3a3a3a" stroke-width="0.90"/>
<line x1="437.70" y1="48.60" x2="440.60" y2="48.60" stroke="#3a3a3a" stroke-width="0.90"/>
<line x1="437.70" y1="37.05" x2="440.60" y2="37.05" stroke="#3a3a3a" stroke-width="0.90"/>
<line x1="437.70" y1="25.50" x2="440.60" y2="25.50" stroke="#3a3a3a" stroke-width="0.90"/>
<line x1="440.60" y1="79.80" x2="440.60" y2="82.20" stroke="#3a3a3a" stroke-width="0.90"/>
<line x1="469.30" y1="79.80" x2="469.30" y2="82.20" stroke="#3a3a3a" stroke-width="0.90"/>
<line x1="497.60" y1="79.80" x2="497.60" y2="82.20" stroke="#3a3a3a" stroke-width="0.90"/>
<text transform="translate(445.60 91.30) rotate(-45)" font-size="6.50" text-anchor="end" fill="#262626" stroke="#262626" stroke-width="0.17" textLength="16.80" lengthAdjust="spacingAndGlyphs">−10kb</text>
<text transform="translate(470.10 91.30) rotate(-45)" font-size="6.50" text-anchor="end" fill="#262626" stroke="#262626" stroke-width="0.17" textLength="18.00" lengthAdjust="spacingAndGlyphs">center</text>
<text transform="translate(499.60 91.30) rotate(-45)" font-size="6.50" text-anchor="end" fill="#262626" stroke="#262626" stroke-width="0.17" textLength="17.90" lengthAdjust="spacingAndGlyphs">+10kb</text>
<polygon points="377.30,183.50 377.30,179.95 377.66,179.95 378.01,179.94 378.37,179.94 378.73,179.93 379.09,179.93 379.44,179.93 379.80,179.92 380.16,179.92 380.52,179.91 380.88,179.90 381.23,179.90 381.59,179.89 381.95,179.89 382.31,179.88 382.66,179.87 383.02,179.87 383.38,179.86 383.74,179.85 384.09,179.84 384.45,179.83 384.81,179.83 385.17,179.82 385.52,179.81 385.88,179.80 386.24,179.78 386.60,179.77 386.95,179.76 387.31,179.75 387.67,179.74 388.03,179.72 388.38,179.71 388.74,179.69 389.10,179.68 389.45,179.66 389.81,179.64 390.17,179.62 390.53,179.60 390.88,179.58 391.24,179.55 391.60,179.53 391.96,179.50 392.31,179.47 392.67,179.44 393.03,179.41 393.39,179.37 393.75,179.34 394.10,179.30 394.46,179.25 394.82,179.20 395.18,179.15 395.53,179.09 395.89,179.03 396.25,178.96 396.61,178.88 396.96,178.80 397.32,178.70 397.68,178.59 398.04,178.47 398.39,178.34 398.75,178.18 399.11,178.00 399.47,177.79 399.82,177.55 400.18,177.26 400.54,176.92 400.89,176.50 401.25,175.99 401.61,175.36 401.97,174.56 402.32,173.53 402.68,172.16 403.04,170.33 403.40,167.80 403.75,164.22 404.11,159.09 404.47,151.78 404.83,141.99 405.19,131.37 405.54,125.24 405.60,125.98 405.90,128.57 406.26,138.49 406.62,148.88 406.97,157.01 407.33,162.77 407.69,166.78 408.05,169.60 408.40,171.63 408.76,173.13 409.12,174.26 409.48,175.12 409.83,175.81 410.19,176.35 410.55,176.79 410.91,177.16 411.26,177.46 411.62,177.72 411.98,177.94 412.33,178.13 412.69,178.29 413.05,178.43 413.41,178.56 413.76,178.67 414.12,178.77 414.48,178.86 414.84,178.94 415.19,179.01 415.55,179.07 415.91,179.13 416.27,179.19 416.62,179.24 416.98,179.28 417.34,179.32 417.70,179.36 418.06,179.40 418.41,179.43 418.77,179.46 419.13,179.49 419.49,179.52 419.84,179.55 420.20,179.57 420.56,179.59 420.92,179.61 421.27,179.63 421.63,179.65 421.99,179.67 422.35,179.69 422.70,179.70 423.06,179.72 423.42,179.73 423.77,179.74 424.13,179.76 424.49,179.77 424.85,179.78 425.20,179.79 425.56,179.80 425.92,179.81 426.28,179.82 426.63,179.83 426.99,179.84 427.35,179.85 427.71,179.86 428.06,179.86 428.42,179.87 428.78,179.88 429.14,179.88 429.50,179.89 429.85,179.90 430.21,179.90 430.57,179.91 430.93,179.91 431.28,179.92 431.64,179.92 432.00,179.93 432.36,179.93 432.71,179.94 433.07,179.94 433.43,179.95 433.79,179.95 434.14,179.95 434.50,179.96 434.50,183.50" fill="#eaf6f0"/>
<polyline points="377.30,179.95 377.66,179.95 378.01,179.94 378.37,179.94 378.73,179.93 379.09,179.93 379.44,179.93 379.80,179.92 380.16,179.92 380.52,179.91 380.88,179.90 381.23,179.90 381.59,179.89 381.95,179.89 382.31,179.88 382.66,179.87 383.02,179.87 383.38,179.86 383.74,179.85 384.09,179.84 384.45,179.83 384.81,179.83 385.17,179.82 385.52,179.81 385.88,179.80 386.24,179.78 386.60,179.77 386.95,179.76 387.31,179.75 387.67,179.74 388.03,179.72 388.38,179.71 388.74,179.69 389.10,179.68 389.45,179.66 389.81,179.64 390.17,179.62 390.53,179.60 390.88,179.58 391.24,179.55 391.60,179.53 391.96,179.50 392.31,179.47 392.67,179.44 393.03,179.41 393.39,179.37 393.75,179.34 394.10,179.30 394.46,179.25 394.82,179.20 395.18,179.15 395.53,179.09 395.89,179.03 396.25,178.96 396.61,178.88 396.96,178.80 397.32,178.70 397.68,178.59 398.04,178.47 398.39,178.34 398.75,178.18 399.11,178.00 399.47,177.79 399.82,177.55 400.18,177.26 400.54,176.92 400.89,176.50 401.25,175.99 401.61,175.36 401.97,174.56 402.32,173.53 402.68,172.16 403.04,170.33 403.40,167.80 403.75,164.22 404.11,159.09 404.47,151.78 404.83,141.99 405.19,131.37 405.54,125.24 405.60,125.98 405.90,128.57 406.26,138.49 406.62,148.88 406.97,157.01 407.33,162.77 407.69,166.78 408.05,169.60 408.40,171.63 408.76,173.13 409.12,174.26 409.48,175.12 409.83,175.81 410.19,176.35 410.55,176.79 410.91,177.16 411.26,177.46 411.62,177.72 411.98,177.94 412.33,178.13 412.69,178.29 413.05,178.43 413.41,178.56 413.76,178.67 414.12,178.77 414.48,178.86 414.84,178.94 415.19,179.01 415.55,179.07 415.91,179.13 416.27,179.19 416.62,179.24 416.98,179.28 417.34,179.32 417.70,179.36 418.06,179.40 418.41,179.43 418.77,179.46 419.13,179.49 419.49,179.52 419.84,179.55 420.20,179.57 420.56,179.59 420.92,179.61 421.27,179.63 421.63,179.65 421.99,179.67 422.35,179.69 422.70,179.70 423.06,179.72 423.42,179.73 423.77,179.74 424.13,179.76 424.49,179.77 424.85,179.78 425.20,179.79 425.56,179.80 425.92,179.81 426.28,179.82 426.63,179.83 426.99,179.84 427.35,179.85 427.71,179.86 428.06,179.86 428.42,179.87 428.78,179.88 429.14,179.88 429.50,179.89 429.85,179.90 430.21,179.90 430.57,179.91 430.93,179.91 431.28,179.92 431.64,179.92 432.00,179.93 432.36,179.93 432.71,179.94 433.07,179.94 433.43,179.95 433.79,179.95 434.14,179.95 434.50,179.96" fill="none" stroke="#4aa585" stroke-width="0.9"/>
<polyline points="377.30,179.99 377.66,179.99 378.01,179.99 378.37,179.99 378.73,179.98 379.09,179.98 379.44,179.98 379.80,179.97 380.16,179.97 380.52,179.97 380.88,179.96 381.23,179.96 381.59,179.95 381.95,179.95 382.31,179.94 382.66,179.94 383.02,179.93 383.38,179.93 383.74,179.92 384.09,179.92 384.45,179.91 384.81,179.91 385.17,179.90 385.52,179.89 385.88,179.89 386.24,179.88 386.60,179.87 386.95,179.86 387.31,179.85 387.67,179.84 388.03,179.83 388.38,179.82 388.74,179.81 389.10,179.80 389.45,179.79 389.81,179.78 390.17,179.77 390.53,179.75 390.88,179.74 391.24,179.72 391.60,179.71 391.96,179.69 392.31,179.67 392.67,179.65 393.03,179.63 393.39,179.61 393.75,179.58 394.10,179.56 394.46,179.53 394.82,179.50 395.18,179.47 395.53,179.43 395.89,179.39 396.25,179.35 396.61,179.31 396.96,179.26 397.32,179.20 397.68,179.14 398.04,179.07 398.39,178.99 398.75,178.91 399.11,178.81 399.47,178.69 399.82,178.56 400.18,178.40 400.54,178.21 400.89,177.99 401.25,177.72 401.61,177.38 401.97,176.96 402.32,176.42 402.68,175.71 403.04,174.76 403.40,173.45 403.75,171.60 404.11,168.96 404.47,165.20 404.83,160.17 405.19,154.72 405.54,151.56 405.60,152.37 405.90,153.28 406.26,158.37 406.62,163.71 406.97,167.89 407.33,170.86 407.69,172.92 408.05,174.38 408.40,175.44 408.76,176.21 409.12,176.80 409.48,177.26 409.83,177.62 410.19,177.91 410.55,178.15 410.91,178.34 411.26,178.51 411.62,178.65 411.98,178.77 412.33,178.87 412.69,178.97 413.05,179.05 413.41,179.12 413.76,179.18 414.12,179.24 414.48,179.29 414.84,179.34 415.19,179.38 415.55,179.42 415.91,179.46 416.27,179.49 416.62,179.52 416.98,179.55 417.34,179.57 417.70,179.60 418.06,179.62 418.41,179.64 418.77,179.66 419.13,179.68 419.49,179.70 419.84,179.72 420.20,179.73 420.56,179.75 420.92,179.76 421.27,179.77 421.63,179.79 421.99,179.80 422.35,179.81 422.70,179.82 423.06,179.83 423.42,179.84 423.77,179.85 424.13,179.86 424.49,179.87 424.85,179.88 425.20,179.88 425.56,179.89 425.92,179.90 426.28,179.90 426.63,179.91 426.99,179.92 427.35,179.92 427.71,179.93 428.06,179.93 428.42,179.94 428.78,179.94 429.14,179.95 429.50,179.95 429.85,179.96 430.21,179.96 430.57,179.96 430.93,179.97 431.28,179.97 431.64,179.98 432.00,179.98 432.36,179.98 432.71,179.98 433.07,179.99 433.43,179.99 433.79,179.99 434.14,180.00 434.50,180.00" fill="none" stroke="#3f6356" stroke-width="0.9" stroke-dasharray="1.8 1.2"/>
<rect x="376.80" y="122.80" width="58.20" height="60.70" fill="none" stroke="#3a3a3a" stroke-width="1.00"/>
<line x1="376.30" y1="183.50" x2="435.50" y2="183.50" stroke="#3a3a3a" stroke-width="1.40"/>
<line x1="373.90" y1="169.76" x2="376.80" y2="169.76" stroke="#3a3a3a" stroke-width="0.90"/>
<text x="371.20" y="172.16" font-size="7.00" text-anchor="end" fill="#262626" stroke="#262626" stroke-width="0.18" textLength="7.55" lengthAdjust="spacingAndGlyphs">10</text>
<line x1="373.90" y1="155.02" x2="376.80" y2="155.02" stroke="#3a3a3a" stroke-width="0.90"/>
<text x="371.20" y="157.42" font-size="7.00" text-anchor="end" fill="#262626" stroke="#262626" stroke-width="0.18" textLength="7.55" lengthAdjust="spacingAndGlyphs">20</text>
<line x1="373.90" y1="140.28" x2="376.80" y2="140.28" stroke="#3a3a3a" stroke-width="0.90"/>
<text x="371.20" y="142.68" font-size="7.00" text-anchor="end" fill="#262626" stroke="#262626" stroke-width="0.18" textLength="7.55" lengthAdjust="spacingAndGlyphs">30</text>
<line x1="373.90" y1="125.54" x2="376.80" y2="125.54" stroke="#3a3a3a" stroke-width="0.90"/>
<text x="371.20" y="127.94" font-size="7.00" text-anchor="end" fill="#262626" stroke="#262626" stroke-width="0.18" textLength="7.55" lengthAdjust="spacingAndGlyphs">40</text>
<line x1="376.80" y1="183.50" x2="376.80" y2="185.90" stroke="#3a3a3a" stroke-width="0.90"/>
<line x1="405.60" y1="183.50" x2="405.60" y2="185.90" stroke="#3a3a3a" stroke-width="0.90"/>
<line x1="435.00" y1="183.50" x2="435.00" y2="185.90" stroke="#3a3a3a" stroke-width="0.90"/>
<text transform="translate(381.80 195.00) rotate(-45)" font-size="6.50" text-anchor="end" fill="#262626" stroke="#262626" stroke-width="0.17" textLength="16.80" lengthAdjust="spacingAndGlyphs">−10kb</text>
<text transform="translate(406.40 195.00) rotate(-45)" font-size="6.50" text-anchor="end" fill="#262626" stroke="#262626" stroke-width="0.17" textLength="18.00" lengthAdjust="spacingAndGlyphs">center</text>
<text transform="translate(437.00 195.00) rotate(-45)" font-size="6.50" text-anchor="end" fill="#262626" stroke="#262626" stroke-width="0.17" textLength="17.90" lengthAdjust="spacingAndGlyphs">+10kb</text>
<polygon points="441.00,183.50 441.00,180.43 441.35,180.43 441.70,180.43 442.06,180.43 442.41,180.42 442.76,180.42 443.11,180.42 443.46,180.41 443.81,180.41 444.17,180.41 444.52,180.40 444.87,180.40 445.22,180.39 445.57,180.39 445.93,180.38 446.28,180.38 446.63,180.38 446.98,180.37 447.33,180.36 447.69,180.36 448.04,180.35 448.39,180.35 448.74,180.34 449.09,180.33 449.44,180.33 449.80,180.32 450.15,180.31 450.50,180.30 450.85,180.30 451.20,180.29 451.56,180.28 451.91,180.27 452.26,180.26 452.61,180.25 452.96,180.23 453.32,180.22 453.67,180.21 454.02,180.20 454.37,180.18 454.72,180.17 455.07,180.15 455.43,180.14 455.78,180.12 456.13,180.10 456.48,180.08 456.83,180.06 457.19,180.03 457.54,180.01 457.89,179.98 458.24,179.95 458.59,179.92 458.95,179.89 459.30,179.86 459.65,179.82 460.00,179.77 460.35,179.73 460.70,179.68 461.06,179.62 461.41,179.56 461.76,179.49 462.11,179.41 462.46,179.32 462.82,179.22 463.17,179.10 463.52,178.97 463.87,178.81 464.22,178.63 464.58,178.41 464.93,178.14 465.28,177.81 465.63,177.40 465.98,176.88 466.33,176.20 466.69,175.30 467.04,174.07 467.39,172.37 467.74,169.95 468.09,166.50 468.45,161.77 468.80,156.09 469.15,151.47 469.35,151.48 469.50,151.11 469.85,155.32 470.21,161.02 470.56,165.94 470.91,169.55 471.26,172.09 471.61,173.87 471.97,175.15 472.32,176.09 472.67,176.80 473.02,177.34 473.37,177.76 473.72,178.10 474.08,178.37 474.43,178.60 474.78,178.79 475.13,178.95 475.48,179.09 475.84,179.20 476.19,179.31 476.54,179.40 476.89,179.48 477.24,179.55 477.60,179.61 477.95,179.67 478.30,179.72 478.65,179.77 479.00,179.81 479.35,179.85 479.71,179.89 480.06,179.92 480.41,179.95 480.76,179.98 481.11,180.01 481.47,180.03 481.82,180.05 482.17,180.08 482.52,180.10 482.87,180.11 483.23,180.13 483.58,180.15 483.93,180.17 484.28,180.18 484.63,180.19 484.98,180.21 485.34,180.22 485.69,180.23 486.04,180.24 486.39,180.26 486.74,180.27 487.10,180.28 487.45,180.29 487.80,180.29 488.15,180.30 488.50,180.31 488.86,180.32 489.21,180.33 489.56,180.33 489.91,180.34 490.26,180.35 490.61,180.35 490.97,180.36 491.32,180.36 491.67,180.37 492.02,180.37 492.37,180.38 492.73,180.38 493.08,180.39 493.43,180.39 493.78,180.40 494.13,180.40 494.49,180.41 494.84,180.41 495.19,180.41 495.54,180.42 495.89,180.42 496.24,180.42 496.60,180.43 496.95,180.43 497.30,180.43 497.30,183.50" fill="#f6f5fc"/>
<polyline points="441.00,180.43 441.35,180.43 441.70,180.43 442.06,180.43 442.41,180.42 442.76,180.42 443.11,180.42 443.46,180.41 443.81,180.41 444.17,180.41 444.52,180.40 444.87,180.40 445.22,180.39 445.57,180.39 445.93,180.38 446.28,180.38 446.63,180.38 446.98,180.37 447.33,180.36 447.69,180.36 448.04,180.35 448.39,180.35 448.74,180.34 449.09,180.33 449.44,180.33 449.80,180.32 450.15,180.31 450.50,180.30 450.85,180.30 451.20,180.29 451.56,180.28 451.91,180.27 452.26,180.26 452.61,180.25 452.96,180.23 453.32,180.22 453.67,180.21 454.02,180.20 454.37,180.18 454.72,180.17 455.07,180.15 455.43,180.14 455.78,180.12 456.13,180.10 456.48,180.08 456.83,180.06 457.19,180.03 457.54,180.01 457.89,179.98 458.24,179.95 458.59,179.92 458.95,179.89 459.30,179.86 459.65,179.82 460.00,179.77 460.35,179.73 460.70,179.68 461.06,179.62 461.41,179.56 461.76,179.49 462.11,179.41 462.46,179.32 462.82,179.22 463.17,179.10 463.52,178.97 463.87,178.81 464.22,178.63 464.58,178.41 464.93,178.14 465.28,177.81 465.63,177.40 465.98,176.88 466.33,176.20 466.69,175.30 467.04,174.07 467.39,172.37 467.74,169.95 468.09,166.50 468.45,161.77 468.80,156.09 469.15,151.47 469.35,151.48 469.50,151.11 469.85,155.32 470.21,161.02 470.56,165.94 470.91,169.55 471.26,172.09 471.61,173.87 471.97,175.15 472.32,176.09 472.67,176.80 473.02,177.34 473.37,177.76 473.72,178.10 474.08,178.37 474.43,178.60 474.78,178.79 475.13,178.95 475.48,179.09 475.84,179.20 476.19,179.31 476.54,179.40 476.89,179.48 477.24,179.55 477.60,179.61 477.95,179.67 478.30,179.72 478.65,179.77 479.00,179.81 479.35,179.85 479.71,179.89 480.06,179.92 480.41,179.95 480.76,179.98 481.11,180.01 481.47,180.03 481.82,180.05 482.17,180.08 482.52,180.10 482.87,180.11 483.23,180.13 483.58,180.15 483.93,180.17 484.28,180.18 484.63,180.19 484.98,180.21 485.34,180.22 485.69,180.23 486.04,180.24 486.39,180.26 486.74,180.27 487.10,180.28 487.45,180.29 487.80,180.29 488.15,180.30 488.50,180.31 488.86,180.32 489.21,180.33 489.56,180.33 489.91,180.34 490.26,180.35 490.61,180.35 490.97,180.36 491.32,180.36 491.67,180.37 492.02,180.37 492.37,180.38 492.73,180.38 493.08,180.39 493.43,180.39 493.78,180.40 494.13,180.40 494.49,180.41 494.84,180.41 495.19,180.41 495.54,180.42 495.89,180.42 496.24,180.42 496.60,180.43 496.95,180.43 497.30,180.43" fill="none" stroke="#a39bdc" stroke-width="0.9"/>
<polyline points="441.00,180.45 441.35,180.45 441.70,180.44 442.06,180.44 442.41,180.44 442.76,180.44 443.11,180.43 443.46,180.43 443.81,180.43 444.17,180.42 444.52,180.42 444.87,180.42 445.22,180.41 445.57,180.41 445.93,180.41 446.28,180.40 446.63,180.40 446.98,180.39 447.33,180.39 447.69,180.38 448.04,180.38 448.39,180.37 448.74,180.37 449.09,180.36 449.44,180.36 449.80,180.35 450.15,180.34 450.50,180.34 450.85,180.33 451.20,180.32 451.56,180.31 451.91,180.31 452.26,180.30 452.61,180.29 452.96,180.28 453.32,180.27 453.67,180.26 454.02,180.25 454.37,180.23 454.72,180.22 455.07,180.21 455.43,180.20 455.78,180.18 456.13,180.16 456.48,180.15 456.83,180.13 457.19,180.11 457.54,180.09 457.89,180.07 458.24,180.05 458.59,180.02 458.95,180.00 459.30,179.97 459.65,179.94 460.00,179.91 460.35,179.87 460.70,179.83 461.06,179.79 461.41,179.74 461.76,179.69 462.11,179.63 462.46,179.56 462.82,179.49 463.17,179.40 463.52,179.30 463.87,179.19 464.22,179.05 464.58,178.89 464.93,178.70 465.28,178.46 465.63,178.17 465.98,177.80 466.33,177.32 466.69,176.69 467.04,175.83 467.39,174.63 467.74,172.94 468.09,170.54 468.45,167.24 468.80,163.27 469.15,160.05 469.35,160.33 469.50,159.80 469.85,162.74 470.21,166.72 470.56,170.14 470.91,172.66 471.26,174.44 471.61,175.69 471.97,176.59 472.32,177.25 472.67,177.74 473.02,178.13 473.37,178.43 473.72,178.67 474.08,178.87 474.43,179.03 474.78,179.17 475.13,179.29 475.48,179.39 475.84,179.47 476.19,179.55 476.54,179.62 476.89,179.68 477.24,179.73 477.60,179.78 477.95,179.82 478.30,179.86 478.65,179.90 479.00,179.93 479.35,179.97 479.71,179.99 480.06,180.02 480.41,180.05 480.76,180.07 481.11,180.09 481.47,180.11 481.82,180.13 482.17,180.15 482.52,180.16 482.87,180.18 483.23,180.19 483.58,180.21 483.93,180.22 484.28,180.23 484.63,180.24 484.98,180.26 485.34,180.27 485.69,180.28 486.04,180.29 486.39,180.30 486.74,180.30 487.10,180.31 487.45,180.32 487.80,180.33 488.15,180.34 488.50,180.34 488.86,180.35 489.21,180.36 489.56,180.36 489.91,180.37 490.26,180.37 490.61,180.38 490.97,180.38 491.32,180.39 491.67,180.39 492.02,180.40 492.37,180.40 492.73,180.41 493.08,180.41 493.43,180.41 493.78,180.42 494.13,180.42 494.49,180.42 494.84,180.43 495.19,180.43 495.54,180.43 495.89,180.44 496.24,180.44 496.60,180.44 496.95,180.44 497.30,180.45" fill="none" stroke="#a09cc8" stroke-width="0.9" stroke-dasharray="1.8 1.2"/>
<rect x="440.50" y="122.80" width="57.30" height="60.70" fill="none" stroke="#3a3a3a" stroke-width="1.00"/>
<line x1="440.00" y1="183.50" x2="498.30" y2="183.50" stroke="#3a3a3a" stroke-width="1.40"/>
<line x1="437.60" y1="169.76" x2="440.50" y2="169.76" stroke="#3a3a3a" stroke-width="0.90"/>
<line x1="437.60" y1="155.02" x2="440.50" y2="155.02" stroke="#3a3a3a" stroke-width="0.90"/>
<line x1="437.60" y1="140.28" x2="440.50" y2="140.28" stroke="#3a3a3a" stroke-width="0.90"/>
<line x1="437.60" y1="125.54" x2="440.50" y2="125.54" stroke="#3a3a3a" stroke-width="0.90"/>
<line x1="440.50" y1="183.50" x2="440.50" y2="185.90" stroke="#3a3a3a" stroke-width="0.90"/>
<line x1="469.35" y1="183.50" x2="469.35" y2="185.90" stroke="#3a3a3a" stroke-width="0.90"/>
<line x1="497.80" y1="183.50" x2="497.80" y2="185.90" stroke="#3a3a3a" stroke-width="0.90"/>
<text transform="translate(445.50 195.00) rotate(-45)" font-size="6.50" text-anchor="end" fill="#262626" stroke="#262626" stroke-width="0.17" textLength="16.80" lengthAdjust="spacingAndGlyphs">−10kb</text>
<text transform="translate(470.15 195.00) rotate(-45)" font-size="6.50" text-anchor="end" fill="#262626" stroke="#262626" stroke-width="0.17" textLength="18.00" lengthAdjust="spacingAndGlyphs">center</text>
<text transform="translate(499.80 195.00) rotate(-45)" font-size="6.50" text-anchor="end" fill="#262626" stroke="#262626" stroke-width="0.17" textLength="17.90" lengthAdjust="spacingAndGlyphs">+10kb</text>
<line x1="405.35" y1="22.04" x2="501.00" y2="22.04" stroke="#b8906f" stroke-width="1.00"/>
<line x1="469.30" y1="30.35" x2="501.00" y2="30.35" stroke="#9a7a60" stroke-width="1.00"/>
<line x1="501.00" y1="22.04" x2="501.00" y2="30.35" stroke="#b8906f" stroke-width="1.00"/>
<line x1="499.50" y1="22.04" x2="501.00" y2="22.04" stroke="#3a3a3a" stroke-width="0.80"/>
<line x1="499.50" y1="30.35" x2="501.00" y2="30.35" stroke="#3a3a3a" stroke-width="0.80"/>
<line x1="501.00" y1="22.04" x2="501.00" y2="30.35" stroke="#3a3a3a" stroke-width="0.80"/>
<circle cx="504.90" cy="26.19" r="0.85" fill="#262626"/><circle cx="507.80" cy="26.19" r="0.85" fill="#262626"/><circle cx="510.70" cy="26.19" r="0.85" fill="#262626"/>
<line x1="406.35" y1="43.52" x2="501.00" y2="43.52" stroke="#efb48f" stroke-width="0.90" stroke-dasharray="2.2 2.2"/>
<line x1="470.30" y1="45.14" x2="501.00" y2="45.14" stroke="#efb48f" stroke-width="0.90" stroke-dasharray="2.2 2.2"/>
<line x1="501.00" y1="43.52" x2="501.00" y2="45.14" stroke="#efb48f" stroke-width="0.90"/>
<circle cx="504.90" cy="44.73" r="0.85" fill="#262626"/><circle cx="507.80" cy="44.73" r="0.85" fill="#262626"/><circle cx="510.70" cy="44.73" r="0.85" fill="#262626"/>
<line x1="405.60" y1="125.98" x2="501.00" y2="125.98" stroke="#b8906f" stroke-width="1.00"/>
<line x1="469.35" y1="151.48" x2="501.00" y2="151.48" stroke="#7f6450" stroke-width="1.10"/>
<line x1="501.00" y1="125.98" x2="501.00" y2="151.48" stroke="#6e5a48" stroke-width="0.90"/>
<circle cx="504.90" cy="138.73" r="0.85" fill="#262626"/><circle cx="507.80" cy="138.73" r="0.85" fill="#262626"/><circle cx="510.70" cy="138.73" r="0.85" fill="#262626"/>
<line x1="406.60" y1="152.08" x2="501.00" y2="152.08" stroke="#efb48f" stroke-width="0.90" stroke-dasharray="2.2 2.2"/>
<line x1="470.35" y1="160.33" x2="501.00" y2="160.33" stroke="#efb48f" stroke-width="0.90" stroke-dasharray="2.2 2.2"/>
<line x1="501.00" y1="152.08" x2="501.00" y2="160.33" stroke="#efb48f" stroke-width="0.90"/>
<circle cx="504.90" cy="156.40" r="0.85" fill="#262626"/><circle cx="507.80" cy="156.40" r="0.85" fill="#262626"/><circle cx="510.70" cy="156.40" r="0.85" fill="#262626"/>
<text x="438.00" y="13.80" font-size="9.00" text-anchor="middle" fill="#262626" stroke="#262626" stroke-width="0.23" textLength="9.40" lengthAdjust="spacingAndGlyphs">RL</text>
<text x="437.30" y="117.80" font-size="9.00" text-anchor="middle" fill="#262626" stroke="#262626" stroke-width="0.23" textLength="10.30" lengthAdjust="spacingAndGlyphs">HT</text>
<text transform="translate(359.40 101.40) rotate(-90)" font-size="7.60" text-anchor="middle" fill="#262626" stroke="#262626" stroke-width="0.20" textLength="42.40" lengthAdjust="spacingAndGlyphs">EP300 density</text>
<text x="7.30" y="244.60" font-size="11.60" font-weight="bold" fill="#000" stroke="#000" stroke-width="0.30" textLength="8.70" lengthAdjust="spacingAndGlyphs">G</text>
<rect x="45.50" y="295.50" width="19.80" height="12.20" fill="#8b7dc0"/>
<rect x="64.80" y="295.50" width="19.90" height="12.20" fill="#4a3592"/>
<rect x="84.20" y="295.50" width="20.20" height="12.20" fill="#e8201e"/>
<rect x="103.90" y="295.50" width="19.30" height="12.20" fill="#e9a697"/>
<rect x="45.50" y="307.20" width="19.80" height="12.20" fill="#cfcbd6"/>
<rect x="64.80" y="307.20" width="19.90" height="12.20" fill="#8e7fbe"/>
<rect x="84.20" y="307.20" width="20.20" height="12.20" fill="#ef7458"/>
<rect x="103.90" y="307.20" width="19.30" height="12.20" fill="#9a8ec6"/>
<rect x="45.50" y="318.90" width="19.80" height="12.20" fill="#aba2cc"/>
<rect x="64.80" y="318.90" width="19.90" height="12.20" fill="#4b3894"/>
<rect x="84.20" y="318.90" width="20.20" height="12.20" fill="#e94a2c"/>
<rect x="103.90" y="318.90" width="19.30" height="12.20" fill="#d7d4d6"/>
<rect x="45.50" y="330.60" width="19.80" height="11.40" fill="#d3d0da"/>
<rect x="64.80" y="330.60" width="19.90" height="11.40" fill="#8f82c0"/>
<rect x="84.20" y="330.60" width="20.20" height="11.40" fill="#ef7a5a"/>
<rect x="103.90" y="330.60" width="19.30" height="11.40" fill="#d6d3d5"/>
<text transform="translate(54.75 280.80) rotate(-45)" font-size="7.00" fill="#262626" stroke="#262626" stroke-width="0.18" textLength="10.00" lengthAdjust="spacingAndGlyphs">WT</text>
<text transform="translate(74.10 280.80) rotate(-45)" font-size="7.00" fill="#262626" stroke="#262626" stroke-width="0.18" textLength="21.00" lengthAdjust="spacingAndGlyphs">Y1503C</text>
<text transform="translate(93.65 280.80) rotate(-45)" font-size="7.00" fill="#262626" stroke="#262626" stroke-width="0.18" textLength="10.00" lengthAdjust="spacingAndGlyphs">WT</text>
<text transform="translate(113.15 280.80) rotate(-45)" font-size="7.00" fill="#262626" stroke="#262626" stroke-width="0.18" textLength="21.00" lengthAdjust="spacingAndGlyphs">Y1503C</text>
<text x="55.15" y="291.00" font-size="6.00" text-anchor="middle" fill="#444" stroke="#444" stroke-width="0.15" textLength="2.67" lengthAdjust="spacingAndGlyphs">–</text>
<text x="74.50" y="291.00" font-size="6.00" text-anchor="middle" fill="#444" stroke="#444" stroke-width="0.15" textLength="2.67" lengthAdjust="spacingAndGlyphs">–</text>
<text x="94.05" y="291.00" font-size="6.00" text-anchor="middle" fill="#444" stroke="#444" stroke-width="0.15" textLength="2.80" lengthAdjust="spacingAndGlyphs">+</text>
<text x="113.55" y="291.00" font-size="6.00" text-anchor="middle" fill="#444" stroke="#444" stroke-width="0.15" textLength="2.80" lengthAdjust="spacingAndGlyphs">+</text>
<text x="8.00" y="292.40" font-size="7.10" fill="#262626" stroke="#262626" stroke-width="0.18" textLength="34.20" lengthAdjust="spacingAndGlyphs">CD40L+IL4:</text>
<text x="42.00" y="303.75" font-size="6.80" text-anchor="end" fill="#262626" stroke="#262626" stroke-width="0.17" textLength="23.30" lengthAdjust="spacingAndGlyphs">NFkB−1</text>
<text x="42.00" y="315.45" font-size="6.80" text-anchor="end" fill="#262626" stroke="#262626" stroke-width="0.17" textLength="29.40" lengthAdjust="spacingAndGlyphs">IRF4Up−8</text>
<text x="42.00" y="327.15" font-size="6.80" text-anchor="end" fill="#262626" stroke="#262626" stroke-width="0.17" textLength="25.20" lengthAdjust="spacingAndGlyphs">CD40Up</text>
<text x="42.00" y="338.70" font-size="6.80" text-anchor="end" fill="#262626" stroke="#262626" stroke-width="0.17" textLength="34.70" lengthAdjust="spacingAndGlyphs">CCvsCB_UP</text>
<rect x="129.30" y="303.50" width="2.70" height="38.50" fill="url(#gsva)"/>
<text x="129.80" y="296.40" font-size="6.30" fill="#262626" stroke="#262626" stroke-width="0.16" textLength="33.80" lengthAdjust="spacingAndGlyphs">GSVA score</text>
<text x="135.30" y="306.70" font-size="6.60" fill="#262626" stroke="#262626" stroke-width="0.17" textLength="12.40" lengthAdjust="spacingAndGlyphs">0.50</text>
<text x="135.30" y="317.10" font-size="6.60" fill="#262626" stroke="#262626" stroke-width="0.17" textLength="12.40" lengthAdjust="spacingAndGlyphs">0.25</text>
<text x="135.30" y="327.40" font-size="6.60" fill="#262626" stroke="#262626" stroke-width="0.17" textLength="12.40" lengthAdjust="spacingAndGlyphs">0.00</text>
<text x="135.30" y="337.80" font-size="6.60" fill="#262626" stroke="#262626" stroke-width="0.17" textLength="16.40" lengthAdjust="spacingAndGlyphs">−0.25</text>
<text x="181.90" y="244.60" font-size="11.20" font-weight="bold" fill="#000" stroke="#000" stroke-width="0.29" textLength="7.40" lengthAdjust="spacingAndGlyphs">H</text>
<text x="267.70" y="240.50" font-size="7.00" text-anchor="middle" fill="#262626" stroke="#262626" stroke-width="0.18" textLength="29.00" lengthAdjust="spacingAndGlyphs">Untreated</text>
<line x1="247.70" y1="244.50" x2="287.70" y2="244.50" stroke="#2a2a2a" stroke-width="1.15"/>
<text x="311.80" y="240.50" font-size="7.00" text-anchor="middle" fill="#262626" stroke="#262626" stroke-width="0.18" textLength="36.50" lengthAdjust="spacingAndGlyphs">CD40L + IL4</text>
<line x1="291.00" y1="244.50" x2="332.00" y2="244.50" stroke="#2a2a2a" stroke-width="1.15"/>
<text x="242.50" y="268.20" font-size="7.00" text-anchor="end" fill="#262626" stroke="#262626" stroke-width="0.18" textLength="42.70" lengthAdjust="spacingAndGlyphs">CREBBP status</text>
<text x="242.50" y="280.60" font-size="7.00" text-anchor="end" fill="#262626" stroke="#262626" stroke-width="0.18" textLength="49.50" lengthAdjust="spacingAndGlyphs">Cell fractionation</text>
<line x1="247.90" y1="272.10" x2="258.50" y2="272.10" stroke="#444" stroke-width="0.90"/>
<text x="249.70" y="280.60" font-size="6.90" text-anchor="middle" fill="#262626" stroke="#262626" stroke-width="0.18" textLength="4.30" lengthAdjust="spacingAndGlyphs">N</text>
<text x="256.80" y="280.60" font-size="6.90" text-anchor="middle" fill="#262626" stroke="#262626" stroke-width="0.18" textLength="4.00" lengthAdjust="spacingAndGlyphs">C</text>
<text transform="translate(253.50 267.40) rotate(-45)" font-size="7.00" fill="#262626" stroke="#262626" stroke-width="0.18" textLength="10.00" lengthAdjust="spacingAndGlyphs">WT</text>
<line x1="262.80" y1="272.10" x2="273.40" y2="272.10" stroke="#444" stroke-width="0.90"/>
<text x="264.60" y="280.60" font-size="6.90" text-anchor="middle" fill="#262626" stroke="#262626" stroke-width="0.18" textLength="4.30" lengthAdjust="spacingAndGlyphs">N</text>
<text x="271.70" y="280.60" font-size="6.90" text-anchor="middle" fill="#262626" stroke="#262626" stroke-width="0.18" textLength="4.00" lengthAdjust="spacingAndGlyphs">C</text>
<text transform="translate(268.40 267.40) rotate(-45)" font-size="7.00" fill="#262626" stroke="#262626" stroke-width="0.18" textLength="22.00" lengthAdjust="spacingAndGlyphs">R1446C</text>
<line x1="277.70" y1="272.10" x2="288.30" y2="272.10" stroke="#444" stroke-width="0.90"/>
<text x="279.50" y="280.60" font-size="6.90" text-anchor="middle" fill="#262626" stroke="#262626" stroke-width="0.18" textLength="4.30" lengthAdjust="spacingAndGlyphs">N</text>
<text x="286.60" y="280.60" font-size="6.90" text-anchor="middle" fill="#262626" stroke="#262626" stroke-width="0.18" textLength="4.00" lengthAdjust="spacingAndGlyphs">C</text>
<text transform="translate(283.30 267.40) rotate(-45)" font-size="7.00" fill="#262626" stroke="#262626" stroke-width="0.18" textLength="22.00" lengthAdjust="spacingAndGlyphs">Y1503C</text>
<line x1="290.70" y1="272.10" x2="301.30" y2="272.10" stroke="#444" stroke-width="0.90"/>
<text x="292.50" y="280.60" font-size="6.90" text-anchor="middle" fill="#262626" stroke="#262626" stroke-width="0.18" textLength="4.30" lengthAdjust="spacingAndGlyphs">N</text>
<text x="299.60" y="280.60" font-size="6.90" text-anchor="middle" fill="#262626" stroke="#262626" stroke-width="0.18" textLength="4.00" lengthAdjust="spacingAndGlyphs">C</text>
<text transform="translate(296.30 267.40) rotate(-45)" font-size="7.00" fill="#262626" stroke="#262626" stroke-width="0.18" textLength="10.00" lengthAdjust="spacingAndGlyphs">WT</text>
<line x1="305.40" y1="272.10" x2="316.00" y2="272.10" stroke="#444" stroke-width="0.90"/>
<text x="307.20" y="280.60" font-size="6.90" text-anchor="middle" fill="#262626" stroke="#262626" stroke-width="0.18" textLength="4.30" lengthAdjust="spacingAndGlyphs">N</text>
<text x="314.30" y="280.60" font-size="6.90" text-anchor="middle" fill="#262626" stroke="#262626" stroke-width="0.18" textLength="4.00" lengthAdjust="spacingAndGlyphs">C</text>
<text transform="translate(311.00 267.40) rotate(-45)" font-size="7.00" fill="#262626" stroke="#262626" stroke-width="0.18" textLength="22.00" lengthAdjust="spacingAndGlyphs">R1446C</text>
<line x1="320.30" y1="272.10" x2="330.90" y2="272.10" stroke="#444" stroke-width="0.90"/>
<text x="322.10" y="280.60" font-size="6.90" text-anchor="middle" fill="#262626" stroke="#262626" stroke-width="0.18" textLength="4.30" lengthAdjust="spacingAndGlyphs">N</text>
<text x="329.20" y="280.60" font-size="6.90" text-anchor="middle" fill="#262626" stroke="#262626" stroke-width="0.18" textLength="4.00" lengthAdjust="spacingAndGlyphs">C</text>
<text transform="translate(325.90 267.40) rotate(-45)" font-size="7.00" fill="#262626" stroke="#262626" stroke-width="0.18" textLength="22.00" lengthAdjust="spacingAndGlyphs">Y1503C</text>
<rect x="246.30" y="285.40" width="86.40" height="16.10" fill="#e7e7e7"/>
<rect x="246.30" y="285.40" width="86.40" height="16.10" fill="#000" filter="url(#bgn)" opacity="0.12"/>
<g filter="url(#bb)"><rect x="247.10" y="287.25" width="5.60" height="1.90" rx="1.2" fill="#141414" opacity="0.03"/><rect x="254.30" y="287.25" width="5.60" height="1.90" rx="1.2" fill="#141414" opacity="0.80"/><rect x="261.50" y="287.25" width="5.60" height="1.90" rx="1.2" fill="#141414" opacity="0.05"/><rect x="268.70" y="287.25" width="5.60" height="1.90" rx="1.2" fill="#141414" opacity="0.55"/><rect x="275.90" y="287.25" width="5.60" height="1.90" rx="1.2" fill="#141414" opacity="0.12"/><rect x="283.10" y="287.25" width="5.60" height="1.90" rx="1.2" fill="#141414" opacity="0.85"/><rect x="290.30" y="287.25" width="5.60" height="1.90" rx="1.2" fill="#141414" opacity="0.10"/><rect x="297.50" y="287.25" width="5.60" height="1.90" rx="1.2" fill="#141414" opacity="0.75"/><rect x="304.70" y="287.25" width="5.60" height="1.90" rx="1.2" fill="#141414" opacity="0.12"/><rect x="311.90" y="287.25" width="5.60" height="1.90" rx="1.2" fill="#141414" opacity="0.55"/><rect x="319.10" y="287.25" width="5.60" height="1.90" rx="1.2" fill="#141414" opacity="0.12"/><rect x="326.30" y="287.25" width="5.60" height="1.90" rx="1.2" fill="#141414" opacity="0.80"/><rect x="247.30" y="297.90" width="5.20" height="2.00" rx="1.2" fill="#141414" opacity="0.15"/><rect x="254.50" y="297.90" width="5.20" height="2.00" rx="1.2" fill="#141414" opacity="0.50"/><rect x="261.70" y="297.90" width="5.20" height="2.00" rx="1.2" fill="#141414" opacity="0.08"/><rect x="268.90" y="297.90" width="5.20" height="2.00" rx="1.2" fill="#141414" opacity="0.45"/><rect x="276.10" y="297.90" width="5.20" height="2.00" rx="1.2" fill="#141414" opacity="0.12"/><rect x="283.30" y="297.90" width="5.20" height="2.00" rx="1.2" fill="#141414" opacity="0.60"/><rect x="289.90" y="296.10" width="6.40" height="4.40" rx="1.2" fill="#141414" opacity="1.00"/><rect x="297.10" y="296.10" width="6.40" height="4.40" rx="1.2" fill="#141414" opacity="1.00"/><rect x="304.30" y="296.10" width="6.40" height="4.40" rx="1.2" fill="#141414" opacity="1.00"/><rect x="311.50" y="296.10" width="6.40" height="4.40" rx="1.2" fill="#141414" opacity="0.85"/><rect x="318.70" y="296.10" width="6.40" height="4.40" rx="1.2" fill="#141414" opacity="0.85"/><rect x="325.90" y="296.10" width="6.40" height="4.40" rx="1.2" fill="#141414" opacity="0.85"/></g>
<rect x="246.30" y="285.40" width="86.40" height="16.10" fill="none" stroke="#2a2a2a" stroke-width="1.10"/>
<rect x="246.30" y="305.00" width="86.40" height="9.80" fill="#e7e7e7"/>
<rect x="246.30" y="305.00" width="86.40" height="9.80" fill="#000" filter="url(#bgn)" opacity="0.12"/>
<g filter="url(#bb)"><rect x="247.00" y="308.90" width="5.80" height="2.20" rx="1.2" fill="#141414" opacity="0.10"/><rect x="254.20" y="308.90" width="5.80" height="2.20" rx="1.2" fill="#141414" opacity="0.80"/><rect x="261.40" y="308.90" width="5.80" height="2.20" rx="1.2" fill="#141414" opacity="0.08"/><rect x="268.60" y="308.90" width="5.80" height="2.20" rx="1.2" fill="#141414" opacity="0.70"/><rect x="275.80" y="308.90" width="5.80" height="2.20" rx="1.2" fill="#141414" opacity="0.08"/><rect x="283.00" y="308.90" width="5.80" height="2.20" rx="1.2" fill="#141414" opacity="0.75"/><rect x="290.20" y="308.90" width="5.80" height="2.20" rx="1.2" fill="#141414" opacity="0.40"/><rect x="297.40" y="308.90" width="5.80" height="2.20" rx="1.2" fill="#141414" opacity="0.50"/><rect x="304.60" y="308.90" width="5.80" height="2.20" rx="1.2" fill="#141414" opacity="0.40"/><rect x="311.80" y="308.90" width="5.80" height="2.20" rx="1.2" fill="#141414" opacity="0.55"/><rect x="319.00" y="308.90" width="5.80" height="2.20" rx="1.2" fill="#141414" opacity="0.38"/><rect x="326.20" y="308.90" width="5.80" height="2.20" rx="1.2" fill="#141414" opacity="0.60"/></g>
<rect x="246.30" y="305.00" width="86.40" height="9.80" fill="none" stroke="#2a2a2a" stroke-width="1.10"/>
<rect x="246.30" y="319.20" width="86.40" height="9.40" fill="#e7e7e7"/>
<rect x="246.30" y="319.20" width="86.40" height="9.40" fill="#000" filter="url(#bgn)" opacity="0.12"/>
<g filter="url(#bb)"><rect x="247.00" y="323.90" width="5.80" height="2.60" rx="1.2" fill="#141414" opacity="0.05"/><rect x="254.20" y="323.90" width="5.80" height="2.60" rx="1.2" fill="#141414" opacity="0.75"/><rect x="261.40" y="323.90" width="5.80" height="2.60" rx="1.2" fill="#141414" opacity="0.06"/><rect x="268.60" y="323.90" width="5.80" height="2.60" rx="1.2" fill="#141414" opacity="0.75"/><rect x="275.80" y="323.90" width="5.80" height="2.60" rx="1.2" fill="#141414" opacity="0.06"/><rect x="283.00" y="323.90" width="5.80" height="2.60" rx="1.2" fill="#141414" opacity="0.80"/><rect x="290.20" y="323.90" width="5.80" height="2.60" rx="1.2" fill="#141414" opacity="0.38"/><rect x="297.40" y="323.90" width="5.80" height="2.60" rx="1.2" fill="#141414" opacity="0.42"/><rect x="304.60" y="323.90" width="5.80" height="2.60" rx="1.2" fill="#141414" opacity="0.42"/><rect x="311.80" y="323.90" width="5.80" height="2.60" rx="1.2" fill="#141414" opacity="0.40"/><rect x="319.00" y="323.90" width="5.80" height="2.60" rx="1.2" fill="#141414" opacity="0.40"/><rect x="326.20" y="323.90" width="5.80" height="2.60" rx="1.2" fill="#141414" opacity="0.65"/></g>
<rect x="246.30" y="319.20" width="86.40" height="9.40" fill="none" stroke="#2a2a2a" stroke-width="1.10"/>
<rect x="246.30" y="334.50" width="86.40" height="16.60" fill="#e7e7e7"/>
<rect x="246.30" y="334.50" width="86.40" height="16.60" fill="#000" filter="url(#bgn)" opacity="0.12"/>
<g filter="url(#bb)"><rect x="254.30" y="336.50" width="5.60" height="1.60" rx="1.2" fill="#141414" opacity="0.25"/><rect x="268.70" y="336.50" width="5.60" height="1.60" rx="1.2" fill="#141414" opacity="0.25"/><rect x="283.10" y="336.50" width="5.60" height="1.60" rx="1.2" fill="#141414" opacity="0.30"/><rect x="297.50" y="336.50" width="5.60" height="1.60" rx="1.2" fill="#141414" opacity="0.20"/><rect x="311.90" y="336.50" width="5.60" height="1.60" rx="1.2" fill="#141414" opacity="0.20"/><rect x="326.30" y="336.50" width="5.60" height="1.60" rx="1.2" fill="#141414" opacity="0.15"/><rect x="247.00" y="346.75" width="5.80" height="2.30" rx="1.2" fill="#141414" opacity="0.08"/><rect x="254.20" y="346.75" width="5.80" height="2.30" rx="1.2" fill="#141414" opacity="0.55"/><rect x="261.40" y="346.75" width="5.80" height="2.30" rx="1.2" fill="#141414" opacity="0.08"/><rect x="268.60" y="346.75" width="5.80" height="2.30" rx="1.2" fill="#141414" opacity="0.60"/><rect x="275.80" y="346.75" width="5.80" height="2.30" rx="1.2" fill="#141414" opacity="0.15"/><rect x="283.00" y="346.75" width="5.80" height="2.30" rx="1.2" fill="#141414" opacity="0.80"/><rect x="290.20" y="346.75" width="5.80" height="2.30" rx="1.2" fill="#141414" opacity="0.75"/><rect x="297.40" y="346.75" width="5.80" height="2.30" rx="1.2" fill="#141414" opacity="0.85"/><rect x="304.60" y="346.75" width="5.80" height="2.30" rx="1.2" fill="#141414" opacity="0.70"/><rect x="311.80" y="346.75" width="5.80" height="2.30" rx="1.2" fill="#141414" opacity="0.95"/><rect x="319.00" y="346.75" width="5.80" height="2.30" rx="1.2" fill="#141414" opacity="0.50"/><rect x="326.20" y="346.75" width="5.80" height="2.30" rx="1.2" fill="#141414" opacity="0.85"/></g>
<rect x="246.30" y="334.50" width="86.40" height="16.60" fill="none" stroke="#2a2a2a" stroke-width="1.10"/>
<rect x="246.30" y="354.60" width="86.40" height="9.60" fill="#e7e7e7"/>
<rect x="246.30" y="354.60" width="86.40" height="9.60" fill="#000" filter="url(#bgn)" opacity="0.12"/>
<g filter="url(#bb)"><rect x="247.00" y="358.10" width="5.80" height="2.40" rx="1.2" fill="#141414" opacity="0.15"/><rect x="254.20" y="358.10" width="5.80" height="2.40" rx="1.2" fill="#141414" opacity="0.85"/><rect x="261.40" y="358.10" width="5.80" height="2.40" rx="1.2" fill="#141414" opacity="0.15"/><rect x="268.60" y="358.10" width="5.80" height="2.40" rx="1.2" fill="#141414" opacity="0.85"/><rect x="275.80" y="358.10" width="5.80" height="2.40" rx="1.2" fill="#141414" opacity="0.15"/><rect x="283.00" y="358.10" width="5.80" height="2.40" rx="1.2" fill="#141414" opacity="0.80"/><rect x="290.20" y="358.10" width="5.80" height="2.40" rx="1.2" fill="#141414" opacity="0.60"/><rect x="297.40" y="358.10" width="5.80" height="2.40" rx="1.2" fill="#141414" opacity="0.80"/><rect x="304.60" y="358.10" width="5.80" height="2.40" rx="1.2" fill="#141414" opacity="0.45"/><rect x="311.80" y="358.10" width="5.80" height="2.40" rx="1.2" fill="#141414" opacity="0.85"/><rect x="319.00" y="358.10" width="5.80" height="2.40" rx="1.2" fill="#141414" opacity="0.50"/><rect x="326.20" y="358.10" width="5.80" height="2.40" rx="1.2" fill="#141414" opacity="0.90"/></g>
<rect x="246.30" y="354.60" width="86.40" height="9.60" fill="none" stroke="#2a2a2a" stroke-width="1.10"/>
<rect x="246.30" y="368.80" width="86.40" height="9.30" fill="#e7e7e7"/>
<rect x="246.30" y="368.80" width="86.40" height="9.30" fill="#000" filter="url(#bgn)" opacity="0.12"/>
<g filter="url(#bb)"><rect x="247.00" y="372.35" width="5.80" height="2.50" rx="1.2" fill="#141414" opacity="0.03"/><rect x="254.20" y="372.35" width="5.80" height="2.50" rx="1.2" fill="#141414" opacity="0.85"/><rect x="261.40" y="372.35" width="5.80" height="2.50" rx="1.2" fill="#141414" opacity="0.10"/><rect x="268.60" y="372.35" width="5.80" height="2.50" rx="1.2" fill="#141414" opacity="0.95"/><rect x="275.80" y="372.35" width="5.80" height="2.50" rx="1.2" fill="#141414" opacity="0.05"/><rect x="283.00" y="372.35" width="5.80" height="2.50" rx="1.2" fill="#141414" opacity="0.85"/><rect x="290.20" y="372.35" width="5.80" height="2.50" rx="1.2" fill="#141414" opacity="0.50"/><rect x="297.40" y="372.35" width="5.80" height="2.50" rx="1.2" fill="#141414" opacity="0.95"/><rect x="304.60" y="372.35" width="5.80" height="2.50" rx="1.2" fill="#141414" opacity="0.55"/><rect x="311.80" y="372.35" width="5.80" height="2.50" rx="1.2" fill="#141414" opacity="0.95"/><rect x="319.00" y="372.35" width="5.80" height="2.50" rx="1.2" fill="#141414" opacity="0.45"/><rect x="326.20" y="372.35" width="5.80" height="2.50" rx="1.2" fill="#141414" opacity="0.90"/></g>
<rect x="246.30" y="368.80" width="86.40" height="9.30" fill="none" stroke="#2a2a2a" stroke-width="1.10"/>
<text x="243.10" y="295.90" font-size="7.00" text-anchor="end" fill="#262626" stroke="#262626" stroke-width="0.18" textLength="28.50" lengthAdjust="spacingAndGlyphs">p50/p105</text>
<text x="243.10" y="312.30" font-size="7.00" text-anchor="end" fill="#262626" stroke="#262626" stroke-width="0.18" textLength="11.50" lengthAdjust="spacingAndGlyphs">p65</text>
<text x="243.10" y="326.30" font-size="7.00" text-anchor="end" fill="#262626" stroke="#262626" stroke-width="0.18" textLength="13.00" lengthAdjust="spacingAndGlyphs">IRF4</text>
<text x="243.10" y="345.20" font-size="7.00" text-anchor="end" fill="#262626" stroke="#262626" stroke-width="0.18" textLength="28.50" lengthAdjust="spacingAndGlyphs">p50/p105</text>
<text x="243.10" y="361.80" font-size="7.00" text-anchor="end" fill="#262626" stroke="#262626" stroke-width="0.18" textLength="11.50" lengthAdjust="spacingAndGlyphs">p65</text>
<text x="243.10" y="375.80" font-size="7.00" text-anchor="end" fill="#262626" stroke="#262626" stroke-width="0.18" textLength="13.00" lengthAdjust="spacingAndGlyphs">IRF4</text>
<line x1="211.40" y1="288.00" x2="211.40" y2="326.60" stroke="#3a3a3a" stroke-width="1.10"/>
<line x1="211.20" y1="337.80" x2="211.20" y2="375.70" stroke="#3a3a3a" stroke-width="1.10"/>
<text transform="translate(206.60 307.50) rotate(-90)" font-size="7.00" text-anchor="middle" fill="#262626" stroke="#262626" stroke-width="0.18" textLength="7.00" lengthAdjust="spacingAndGlyphs">RL</text>
<text transform="translate(207.00 357.00) rotate(-90)" font-size="7.00" text-anchor="middle" fill="#262626" stroke="#262626" stroke-width="0.18" textLength="7.50" lengthAdjust="spacingAndGlyphs">HT</text>
<line x1="332.70" y1="288.50" x2="335.90" y2="288.50" stroke="#2a2a2a" stroke-width="0.90"/>
<text x="339.40" y="290.70" font-size="6.40" fill="#262626" stroke="#262626" stroke-width="0.16" textLength="20.40" lengthAdjust="spacingAndGlyphs">100 kD</text>
<line x1="332.70" y1="299.50" x2="335.90" y2="299.50" stroke="#2a2a2a" stroke-width="0.90"/>
<text x="339.40" y="301.70" font-size="6.40" fill="#262626" stroke="#262626" stroke-width="0.16" textLength="16.70" lengthAdjust="spacingAndGlyphs">50 kD</text>
<line x1="332.70" y1="305.40" x2="335.90" y2="305.40" stroke="#2a2a2a" stroke-width="0.90"/>
<text x="339.40" y="307.60" font-size="6.40" fill="#262626" stroke="#262626" stroke-width="0.16" textLength="16.70" lengthAdjust="spacingAndGlyphs">75 kD</text>
<line x1="332.70" y1="312.60" x2="335.90" y2="312.60" stroke="#2a2a2a" stroke-width="0.90"/>
<text x="339.40" y="314.80" font-size="6.40" fill="#262626" stroke="#262626" stroke-width="0.16" textLength="16.70" lengthAdjust="spacingAndGlyphs">50 kD</text>
<line x1="332.70" y1="323.90" x2="335.90" y2="323.90" stroke="#2a2a2a" stroke-width="0.90"/>
<text x="339.40" y="326.10" font-size="6.40" fill="#262626" stroke="#262626" stroke-width="0.16" textLength="16.70" lengthAdjust="spacingAndGlyphs">50 kD</text>
<line x1="332.70" y1="337.30" x2="335.90" y2="337.30" stroke="#2a2a2a" stroke-width="0.90"/>
<text x="339.40" y="339.50" font-size="6.40" fill="#262626" stroke="#262626" stroke-width="0.16" textLength="20.40" lengthAdjust="spacingAndGlyphs">100 kD</text>
<line x1="332.70" y1="348.00" x2="335.90" y2="348.00" stroke="#2a2a2a" stroke-width="0.90"/>
<text x="339.40" y="350.20" font-size="6.40" fill="#262626" stroke="#262626" stroke-width="0.16" textLength="16.70" lengthAdjust="spacingAndGlyphs">50 kD</text>
<line x1="332.70" y1="355.50" x2="335.90" y2="355.50" stroke="#2a2a2a" stroke-width="0.90"/>
<text x="339.40" y="357.70" font-size="6.40" fill="#262626" stroke="#262626" stroke-width="0.16" textLength="16.70" lengthAdjust="spacingAndGlyphs">75 kD</text>
<line x1="332.70" y1="362.60" x2="335.90" y2="362.60" stroke="#2a2a2a" stroke-width="0.90"/>
<text x="339.40" y="364.80" font-size="6.40" fill="#262626" stroke="#262626" stroke-width="0.16" textLength="16.70" lengthAdjust="spacingAndGlyphs">50 kD</text>
<line x1="332.70" y1="373.30" x2="335.90" y2="373.30" stroke="#2a2a2a" stroke-width="0.90"/>
<text x="339.40" y="375.50" font-size="6.40" fill="#262626" stroke="#262626" stroke-width="0.16" textLength="16.70" lengthAdjust="spacingAndGlyphs">50 kD</text>
<text x="376.00" y="243.80" font-size="10.00" font-weight="bold" fill="#000" stroke="#000" stroke-width="0.26" textLength="2.90" lengthAdjust="spacingAndGlyphs">I</text>
<text x="462.10" y="242.50" font-size="8.30" text-anchor="middle" fill="#262626" stroke="#262626" stroke-width="0.21" textLength="84.80" lengthAdjust="spacingAndGlyphs">Homer TF enrichment</text>
<text x="462.00" y="251.80" font-size="8.30" text-anchor="middle" fill="#262626" stroke="#262626" stroke-width="0.21" textLength="73.70" lengthAdjust="spacingAndGlyphs">(H3K27Ac induced</text>
<text x="462.30" y="261.90" font-size="8.30" text-anchor="middle" fill="#262626" stroke="#262626" stroke-width="0.21" textLength="52.90" lengthAdjust="spacingAndGlyphs">by CD40+IL4)</text>
<rect x="413.20" y="268.10" width="98.10" height="97.40" fill="none" stroke="#1e1e1e" stroke-width="1.20"/>
<line x1="410.30" y1="361.20" x2="413.20" y2="361.20" stroke="#1e1e1e" stroke-width="1.00"/>
<text x="407.20" y="363.50" font-size="6.60" text-anchor="end" fill="#3a3a3a" stroke="#3a3a3a" stroke-width="0.17" textLength="8.60" lengthAdjust="spacingAndGlyphs">0.0</text>
<line x1="417.50" y1="365.50" x2="417.50" y2="368.40" stroke="#1e1e1e" stroke-width="1.00"/>
<text x="417.50" y="377.50" font-size="6.60" text-anchor="middle" fill="#3a3a3a" stroke="#3a3a3a" stroke-width="0.17" textLength="8.60" lengthAdjust="spacingAndGlyphs">0.0</text>
<line x1="410.30" y1="338.93" x2="413.20" y2="338.93" stroke="#1e1e1e" stroke-width="1.00"/>
<text x="407.20" y="341.23" font-size="6.60" text-anchor="end" fill="#3a3a3a" stroke="#3a3a3a" stroke-width="0.17" textLength="8.60" lengthAdjust="spacingAndGlyphs">2.5</text>
<line x1="439.75" y1="365.50" x2="439.75" y2="368.40" stroke="#1e1e1e" stroke-width="1.00"/>
<text x="439.75" y="377.50" font-size="6.60" text-anchor="middle" fill="#3a3a3a" stroke="#3a3a3a" stroke-width="0.17" textLength="8.60" lengthAdjust="spacingAndGlyphs">2.5</text>
<line x1="410.30" y1="316.65" x2="413.20" y2="316.65" stroke="#1e1e1e" stroke-width="1.00"/>
<text x="407.20" y="318.95" font-size="6.60" text-anchor="end" fill="#3a3a3a" stroke="#3a3a3a" stroke-width="0.17" textLength="8.60" lengthAdjust="spacingAndGlyphs">5.0</text>
<line x1="462.00" y1="365.50" x2="462.00" y2="368.40" stroke="#1e1e1e" stroke-width="1.00"/>
<text x="462.00" y="377.50" font-size="6.60" text-anchor="middle" fill="#3a3a3a" stroke="#3a3a3a" stroke-width="0.17" textLength="8.60" lengthAdjust="spacingAndGlyphs">5.0</text>
<line x1="410.30" y1="294.38" x2="413.20" y2="294.38" stroke="#1e1e1e" stroke-width="1.00"/>
<text x="407.20" y="296.68" font-size="6.60" text-anchor="end" fill="#3a3a3a" stroke="#3a3a3a" stroke-width="0.17" textLength="8.60" lengthAdjust="spacingAndGlyphs">7.5</text>
<line x1="484.25" y1="365.50" x2="484.25" y2="368.40" stroke="#1e1e1e" stroke-width="1.00"/>
<text x="484.25" y="377.50" font-size="6.60" text-anchor="middle" fill="#3a3a3a" stroke="#3a3a3a" stroke-width="0.17" textLength="8.60" lengthAdjust="spacingAndGlyphs">7.5</text>
<line x1="410.30" y1="272.10" x2="413.20" y2="272.10" stroke="#1e1e1e" stroke-width="1.00"/>
<text x="407.20" y="274.40" font-size="6.60" text-anchor="end" fill="#3a3a3a" stroke="#3a3a3a" stroke-width="0.17" textLength="11.70" lengthAdjust="spacingAndGlyphs">10.0</text>
<line x1="506.50" y1="365.50" x2="506.50" y2="368.40" stroke="#1e1e1e" stroke-width="1.00"/>
<text x="506.50" y="377.50" font-size="6.60" text-anchor="middle" fill="#3a3a3a" stroke="#3a3a3a" stroke-width="0.17" textLength="11.70" lengthAdjust="spacingAndGlyphs">10.0</text>
<text transform="translate(389.80 316.90) rotate(-90)" font-size="8.60" text-anchor="middle" fill="#262626" stroke="#262626" stroke-width="0.22" textLength="77.20" lengthAdjust="spacingAndGlyphs">WT motif enrichment fold</text>
<text x="462.00" y="389.40" font-size="8.60" text-anchor="middle" fill="#262626" stroke="#262626" stroke-width="0.22" textLength="90.80" lengthAdjust="spacingAndGlyphs">KAT-PM motif enrichment fold</text>
<g><circle cx="421.33" cy="362.96" r="1.80" fill="#f6d547" fill-opacity="0.9"/><circle cx="420.54" cy="360.49" r="1.80" fill="#f6d447" fill-opacity="0.9"/><circle cx="420.23" cy="361.02" r="1.80" fill="#f6d346" fill-opacity="0.9"/><circle cx="422.75" cy="360.50" r="1.80" fill="#f6d346" fill-opacity="0.9"/><circle cx="421.23" cy="360.08" r="1.80" fill="#f6d346" fill-opacity="0.9"/><circle cx="418.97" cy="360.10" r="1.80" fill="#f6d246" fill-opacity="0.9"/><circle cx="418.48" cy="355.13" r="1.80" fill="#f6d245" fill-opacity="0.9"/><circle cx="421.46" cy="359.42" r="1.80" fill="#f6d145" fill-opacity="0.9"/><circle cx="419.64" cy="359.00" r="1.80" fill="#f6d145" fill-opacity="0.9"/><circle cx="421.09" cy="356.19" r="1.80" fill="#f6d145" fill-opacity="0.9"/><circle cx="424.25" cy="361.41" r="1.80" fill="#f6d045" fill-opacity="0.9"/><circle cx="424.80" cy="356.31" r="1.80" fill="#f6d045" fill-opacity="0.9"/><circle cx="424.65" cy="356.83" r="1.80" fill="#f6d044" fill-opacity="0.9"/><circle cx="423.01" cy="358.65" r="1.80" fill="#f6d044" fill-opacity="0.9"/><circle cx="421.88" cy="358.44" r="1.80" fill="#f6d044" fill-opacity="0.9"/><circle cx="420.55" cy="357.62" r="1.80" fill="#f6d044" fill-opacity="0.9"/><circle cx="419.60" cy="359.32" r="1.80" fill="#f6cf44" fill-opacity="0.9"/><circle cx="424.68" cy="355.53" r="1.80" fill="#f6cf44" fill-opacity="0.9"/><circle cx="427.48" cy="356.14" r="1.80" fill="#f6cf44" fill-opacity="0.9"/><circle cx="421.43" cy="354.93" r="1.80" fill="#f6cf44" fill-opacity="0.9"/><circle cx="425.50" cy="356.68" r="1.80" fill="#f6cf44" fill-opacity="0.9"/><circle cx="419.12" cy="354.43" r="1.80" fill="#f6cf44" fill-opacity="0.9"/><circle cx="420.77" cy="359.29" r="1.80" fill="#f6cf44" fill-opacity="0.9"/><circle cx="418.49" cy="357.53" r="1.80" fill="#f6ce43" fill-opacity="0.9"/><circle cx="420.61" cy="361.73" r="1.80" fill="#f6ce43" fill-opacity="0.9"/><circle cx="426.01" cy="354.14" r="1.80" fill="#f6ce43" fill-opacity="0.9"/><circle cx="419.62" cy="359.89" r="1.80" fill="#f6cd43" fill-opacity="0.9"/><circle cx="423.03" cy="358.05" r="1.80" fill="#f6cd43" fill-opacity="0.9"/><circle cx="426.78" cy="350.89" r="1.80" fill="#f6cd43" fill-opacity="0.9"/><circle cx="425.49" cy="352.29" r="1.80" fill="#f6cc42" fill-opacity="0.9"/><circle cx="417.93" cy="358.00" r="1.80" fill="#f6cc42" fill-opacity="0.9"/><circle cx="423.21" cy="359.89" r="1.80" fill="#f6cc42" fill-opacity="0.9"/><circle cx="416.75" cy="356.28" r="1.80" fill="#f6cc42" fill-opacity="0.9"/><circle cx="420.78" cy="351.30" r="1.80" fill="#f6cc42" fill-opacity="0.9"/><circle cx="423.21" cy="358.41" r="1.80" fill="#f6cc42" fill-opacity="0.9"/><circle cx="425.29" cy="357.08" r="1.80" fill="#f6cb42" fill-opacity="0.9"/><circle cx="422.26" cy="346.63" r="1.80" fill="#f6cb42" fill-opacity="0.9"/><circle cx="422.09" cy="356.93" r="1.80" fill="#f6cb42" fill-opacity="0.9"/><circle cx="421.43" cy="353.52" r="1.80" fill="#f6ca41" fill-opacity="0.9"/><circle cx="421.80" cy="353.65" r="1.80" fill="#f6ca41" fill-opacity="0.9"/><circle cx="427.02" cy="357.76" r="1.80" fill="#f6ca41" fill-opacity="0.9"/><circle cx="420.20" cy="352.09" r="1.80" fill="#f6ca41" fill-opacity="0.9"/><circle cx="423.24" cy="355.41" r="1.80" fill="#f6ca41" fill-opacity="0.9"/><circle cx="424.60" cy="354.62" r="1.80" fill="#f6ca41" fill-opacity="0.9"/><circle cx="421.37" cy="354.89" r="1.80" fill="#f6c941" fill-opacity="0.9"/><circle cx="426.27" cy="350.68" r="1.80" fill="#f6c941" fill-opacity="0.9"/><circle cx="422.85" cy="355.36" r="1.80" fill="#f6c941" fill-opacity="0.9"/><circle cx="428.48" cy="345.78" r="1.80" fill="#f6c941" fill-opacity="0.9"/><circle cx="428.67" cy="343.66" r="1.80" fill="#f6c941" fill-opacity="0.9"/><circle cx="422.15" cy="352.43" r="1.80" fill="#f6c941" fill-opacity="0.9"/><circle cx="431.83" cy="352.42" r="1.80" fill="#f6c940" fill-opacity="0.9"/><circle cx="430.80" cy="351.65" r="1.80" fill="#f6c940" fill-opacity="0.9"/><circle cx="425.12" cy="350.77" r="1.80" fill="#f6c840" fill-opacity="0.9"/><circle cx="428.83" cy="347.37" r="1.80" fill="#f6c840" fill-opacity="0.9"/><circle cx="431.09" cy="346.40" r="1.80" fill="#f6c840" fill-opacity="0.9"/><circle cx="427.72" cy="343.95" r="1.80" fill="#f6c840" fill-opacity="0.9"/><circle cx="434.16" cy="347.01" r="1.80" fill="#f6c840" fill-opacity="0.9"/><circle cx="430.88" cy="351.25" r="1.80" fill="#f6c740" fill-opacity="0.9"/><circle cx="422.69" cy="357.28" r="1.80" fill="#f6c740" fill-opacity="0.9"/><circle cx="428.23" cy="354.46" r="1.80" fill="#f6c73f" fill-opacity="0.9"/><circle cx="427.78" cy="357.21" r="1.80" fill="#f6c73f" fill-opacity="0.9"/><circle cx="430.59" cy="347.18" r="1.80" fill="#f6c73f" fill-opacity="0.9"/><circle cx="432.11" cy="346.12" r="1.80" fill="#f6c63f" fill-opacity="0.9"/><circle cx="426.91" cy="359.40" r="1.80" fill="#f6c63f" fill-opacity="0.9"/><circle cx="434.13" cy="345.48" r="1.80" fill="#f6c63f" fill-opacity="0.9"/><circle cx="419.59" cy="355.63" r="1.80" fill="#f6c63f" fill-opacity="0.9"/><circle cx="426.59" cy="350.32" r="1.80" fill="#f6c63f" fill-opacity="0.9"/><circle cx="432.56" cy="341.35" r="1.80" fill="#f6c53f" fill-opacity="0.9"/><circle cx="432.75" cy="342.02" r="1.80" fill="#f6c53f" fill-opacity="0.9"/><circle cx="429.27" cy="347.18" r="1.80" fill="#f6c53f" fill-opacity="0.9"/><circle cx="435.03" cy="351.80" r="1.80" fill="#f6c53e" fill-opacity="0.9"/><circle cx="429.22" cy="348.84" r="1.80" fill="#f6c53e" fill-opacity="0.9"/><circle cx="434.30" cy="346.57" r="1.80" fill="#f6c43e" fill-opacity="0.9"/><circle cx="432.40" cy="339.74" r="1.80" fill="#f6c43e" fill-opacity="0.9"/><circle cx="421.35" cy="358.34" r="1.80" fill="#f6c43e" fill-opacity="0.9"/><circle cx="432.88" cy="345.30" r="1.80" fill="#f6c43e" fill-opacity="0.9"/><circle cx="434.77" cy="345.33" r="1.80" fill="#f6c43e" fill-opacity="0.9"/><circle cx="433.68" cy="341.06" r="1.80" fill="#f6c33e" fill-opacity="0.9"/><circle cx="436.55" cy="352.22" r="1.80" fill="#f6c33d" fill-opacity="0.9"/><circle cx="427.01" cy="350.46" r="1.80" fill="#f6c33d" fill-opacity="0.9"/><circle cx="434.98" cy="346.46" r="1.80" fill="#f6c33d" fill-opacity="0.9"/><circle cx="432.66" cy="348.91" r="1.80" fill="#f6c33d" fill-opacity="0.9"/><circle cx="433.57" cy="350.74" r="1.80" fill="#f6c33d" fill-opacity="0.9"/><circle cx="436.43" cy="343.85" r="1.80" fill="#f6c33d" fill-opacity="0.9"/><circle cx="429.38" cy="346.78" r="1.80" fill="#f6c33d" fill-opacity="0.9"/><circle cx="426.91" cy="345.12" r="1.80" fill="#f6c23d" fill-opacity="0.9"/><circle cx="425.73" cy="352.72" r="1.80" fill="#f6c23d" fill-opacity="0.9"/><circle cx="418.47" cy="358.39" r="1.80" fill="#f6c23d" fill-opacity="0.9"/><circle cx="433.72" cy="345.71" r="1.80" fill="#f6c23d" fill-opacity="0.9"/><circle cx="430.97" cy="345.06" r="1.80" fill="#f6c23d" fill-opacity="0.9"/><circle cx="422.55" cy="352.06" r="1.80" fill="#f6c23d" fill-opacity="0.9"/><circle cx="425.54" cy="358.62" r="1.80" fill="#f6c23d" fill-opacity="0.9"/><circle cx="431.32" cy="345.20" r="1.80" fill="#f6c13c" fill-opacity="0.9"/><circle cx="437.18" cy="341.94" r="1.80" fill="#f6c13c" fill-opacity="0.9"/><circle cx="432.52" cy="346.28" r="1.80" fill="#f6c03c" fill-opacity="0.9"/><circle cx="436.19" cy="344.51" r="1.80" fill="#f6c03c" fill-opacity="0.9"/><circle cx="432.40" cy="354.66" r="1.80" fill="#f6bf3b" fill-opacity="0.9"/><circle cx="420.32" cy="357.22" r="1.80" fill="#f6bf3b" fill-opacity="0.9"/><circle cx="433.67" cy="345.53" r="1.80" fill="#f6be3b" fill-opacity="0.9"/><circle cx="433.74" cy="342.37" r="1.80" fill="#f6be3a" fill-opacity="0.9"/><circle cx="430.92" cy="341.20" r="1.80" fill="#f6bd3a" fill-opacity="0.9"/><circle cx="432.31" cy="339.13" r="1.80" fill="#f6bd3a" fill-opacity="0.9"/><circle cx="437.54" cy="341.35" r="1.80" fill="#f6bd3a" fill-opacity="0.9"/><circle cx="433.44" cy="347.95" r="1.80" fill="#f6bd3a" fill-opacity="0.9"/><circle cx="433.31" cy="337.56" r="1.80" fill="#f6bd3a" fill-opacity="0.9"/><circle cx="434.73" cy="337.50" r="1.80" fill="#f6bd3a" fill-opacity="0.9"/><circle cx="438.78" cy="340.60" r="1.80" fill="#f6bc3a" fill-opacity="0.9"/><circle cx="436.02" cy="343.53" r="1.80" fill="#f6bc3a" fill-opacity="0.9"/><circle cx="435.66" cy="339.88" r="1.80" fill="#f6bc39" fill-opacity="0.9"/><circle cx="430.28" cy="350.04" r="1.80" fill="#f6bb39" fill-opacity="0.9"/><circle cx="428.58" cy="341.79" r="1.80" fill="#f6bb39" fill-opacity="0.9"/><circle cx="439.14" cy="341.95" r="1.80" fill="#f6ba39" fill-opacity="0.9"/><circle cx="438.03" cy="344.27" r="1.80" fill="#f6ba38" fill-opacity="0.9"/><circle cx="432.75" cy="342.77" r="1.80" fill="#f6b938" fill-opacity="0.9"/><circle cx="437.22" cy="338.54" r="1.80" fill="#f6b938" fill-opacity="0.9"/><circle cx="439.99" cy="344.27" r="1.80" fill="#f6b938" fill-opacity="0.9"/><circle cx="438.75" cy="344.41" r="1.80" fill="#f6b938" fill-opacity="0.9"/><circle cx="434.63" cy="347.45" r="1.80" fill="#f6b938" fill-opacity="0.9"/><circle cx="439.57" cy="341.54" r="1.80" fill="#f6b837" fill-opacity="0.9"/><circle cx="437.44" cy="343.77" r="1.80" fill="#f6b636" fill-opacity="0.9"/><circle cx="435.11" cy="338.71" r="1.80" fill="#f6b536" fill-opacity="0.9"/><circle cx="433.12" cy="336.36" r="1.80" fill="#f6b535" fill-opacity="0.9"/><circle cx="433.33" cy="341.77" r="1.80" fill="#f6b435" fill-opacity="0.9"/><circle cx="428.50" cy="342.71" r="1.80" fill="#f6b234" fill-opacity="0.9"/><circle cx="438.50" cy="344.15" r="1.80" fill="#f6a82e" fill-opacity="0.9"/><circle cx="423.77" cy="358.14" r="1.80" fill="#f6a72e" fill-opacity="0.9"/><circle cx="424.15" cy="358.14" r="1.80" fill="#f6a52d" fill-opacity="0.9"/><circle cx="436.28" cy="343.52" r="1.80" fill="#f5a32d" fill-opacity="0.9"/><circle cx="429.81" cy="346.89" r="1.80" fill="#f5a22d" fill-opacity="0.9"/><circle cx="428.76" cy="355.29" r="1.80" fill="#f39c2d" fill-opacity="0.9"/><circle cx="436.15" cy="343.03" r="1.80" fill="#f2972e" fill-opacity="0.9"/><circle cx="434.87" cy="337.51" r="1.80" fill="#f2972e" fill-opacity="0.9"/><circle cx="432.54" cy="349.85" r="1.80" fill="#f1942e" fill-opacity="0.9"/><circle cx="422.37" cy="351.15" r="1.80" fill="#f08d2f" fill-opacity="0.9"/><circle cx="436.54" cy="345.93" r="1.80" fill="#ef8c2f" fill-opacity="0.9"/><circle cx="423.45" cy="349.92" r="1.80" fill="#ef8b2f" fill-opacity="0.9"/><circle cx="437.00" cy="339.90" r="1.80" fill="#ef892f" fill-opacity="0.9"/><circle cx="432.67" cy="349.84" r="1.80" fill="#ed842f" fill-opacity="0.9"/><circle cx="430.70" cy="338.30" r="1.90" fill="#c14453" fill-opacity="0.9"/><circle cx="433.60" cy="340.40" r="1.90" fill="#932c65" fill-opacity="0.9"/><circle cx="437.70" cy="338.50" r="1.90" fill="#a03062" fill-opacity="0.9"/><circle cx="440.60" cy="342.80" r="1.90" fill="#ce5248" fill-opacity="0.9"/><circle cx="421.30" cy="343.30" r="1.90" fill="#f6d648" fill-opacity="0.9"/><circle cx="435.50" cy="361.00" r="1.90" fill="#f6d145" fill-opacity="0.9"/><circle cx="418.00" cy="361.00" r="1.70" fill="#f6d648" fill-opacity="0.9"/><circle cx="437.10" cy="306.60" r="2.00" fill="#f6b837" fill-opacity="0.9"/></g>
<line x1="413.85" y1="364.85" x2="509.44" y2="269.16" stroke="#111" stroke-width="1.2" stroke-dasharray="3.2 2.4"/>
<line x1="480.20" y1="277.80" x2="475.00" y2="283.00" stroke="#111" stroke-width="1.20"/>
<circle cx="480.20" cy="277.80" r="2.2" fill="#120c28"/>
<line x1="453.30" y1="301.90" x2="460.00" y2="305.90" stroke="#111" stroke-width="1.20"/>
<circle cx="453.30" cy="301.90" r="2.2" fill="#120c28"/>
<line x1="446.40" y1="325.10" x2="453.20" y2="329.10" stroke="#111" stroke-width="1.20"/>
<circle cx="446.40" cy="325.10" r="2.2" fill="#120c28"/>
<circle cx="442.9" cy="315.0" r="2.1" fill="#1c1450"/>
<text x="449.60" y="281.40" font-size="4.60" text-anchor="middle" fill="#4a4a4a" textLength="39.60" lengthAdjust="spacingAndGlyphs">NFkB-p65-Rel(RHD)/</text>
<text x="449.60" y="287.30" font-size="4.60" text-anchor="middle" fill="#4a4a4a" textLength="47.60" lengthAdjust="spacingAndGlyphs">ThioMac-LPS-Expression</text>
<text x="449.60" y="292.50" font-size="4.60" text-anchor="middle" fill="#4a4a4a" textLength="36.70" lengthAdjust="spacingAndGlyphs">(GSE23622)/Homer</text>
<text x="484.50" y="306.20" font-size="4.60" text-anchor="middle" fill="#4a4a4a" textLength="39.10" lengthAdjust="spacingAndGlyphs">NFkB-p50,p52(RHD)/</text>
<text x="484.50" y="311.90" font-size="4.60" text-anchor="middle" fill="#4a4a4a" textLength="49.20" lengthAdjust="spacingAndGlyphs">Monocyte-p50-ChIP-Chip</text>
<text x="484.50" y="316.90" font-size="4.60" text-anchor="middle" fill="#4a4a4a" textLength="47.20" lengthAdjust="spacingAndGlyphs">(Schreiber_et_al.)/Homer</text>
<text x="475.40" y="331.70" font-size="4.60" text-anchor="middle" fill="#4a4a4a" textLength="29.60" lengthAdjust="spacingAndGlyphs">NFkB-p65(RHD)/</text>
<text x="475.40" y="337.50" font-size="4.60" text-anchor="middle" fill="#4a4a4a" textLength="48.10" lengthAdjust="spacingAndGlyphs">GM12787-p65-ChIP-Seq</text>
<text x="475.40" y="342.20" font-size="4.60" text-anchor="middle" fill="#4a4a4a" textLength="37.70" lengthAdjust="spacingAndGlyphs">(GSE19485)/Homer</text>
<rect x="464.20" y="394.60" width="34.00" height="7.00" fill="url(#infg)"/>
<text x="460.50" y="400.20" font-size="6.60" text-anchor="end" fill="#262626" stroke="#262626" stroke-width="0.17" textLength="30.50" lengthAdjust="spacingAndGlyphs">−log10 FDR</text>
<text x="465.30" y="409.70" font-size="6.60" text-anchor="middle" fill="#3a3a3a" stroke="#3a3a3a" stroke-width="0.17" textLength="3.40" lengthAdjust="spacingAndGlyphs">0</text>
<text x="471.68" y="409.70" font-size="6.60" text-anchor="middle" fill="#3a3a3a" stroke="#3a3a3a" stroke-width="0.17" textLength="3.40" lengthAdjust="spacingAndGlyphs">1</text>
<text x="478.06" y="409.70" font-size="6.60" text-anchor="middle" fill="#3a3a3a" stroke="#3a3a3a" stroke-width="0.17" textLength="3.40" lengthAdjust="spacingAndGlyphs">2</text>
<text x="484.44" y="409.70" font-size="6.60" text-anchor="middle" fill="#3a3a3a" stroke="#3a3a3a" stroke-width="0.17" textLength="3.40" lengthAdjust="spacingAndGlyphs">3</text>
<text x="490.82" y="409.70" font-size="6.60" text-anchor="middle" fill="#3a3a3a" stroke="#3a3a3a" stroke-width="0.17" textLength="3.40" lengthAdjust="spacingAndGlyphs">4</text>
<text x="497.20" y="409.70" font-size="6.60" text-anchor="middle" fill="#3a3a3a" stroke="#3a3a3a" stroke-width="0.17" textLength="3.40" lengthAdjust="spacingAndGlyphs">5</text>
<text x="83.00" y="437.00" font-size="11.30" font-weight="bold" fill="#000" stroke="#000" stroke-width="0.29" textLength="5.90" lengthAdjust="spacingAndGlyphs">J</text>
<rect x="127.90" y="513.11" width="5.20" height="3.39" fill="#9688c8"/>
<line x1="130.50" y1="511.91" x2="130.50" y2="513.11" stroke="#6a6290" stroke-width="0.80"/>
<line x1="129.30" y1="511.91" x2="131.70" y2="511.91" stroke="#6a6290" stroke-width="0.80"/>
<rect x="135.10" y="512.80" width="5.20" height="3.70" fill="#36a534"/>
<line x1="137.70" y1="511.60" x2="137.70" y2="512.80" stroke="#2e4a2e" stroke-width="0.80"/>
<line x1="136.50" y1="511.60" x2="138.90" y2="511.60" stroke="#2e4a2e" stroke-width="0.80"/>
<line x1="134.20" y1="516.50" x2="134.20" y2="519.90" stroke="#1e1e1e" stroke-width="0.90"/>
<rect x="147.45" y="513.11" width="5.20" height="3.39" fill="#9688c8"/>
<line x1="150.05" y1="511.91" x2="150.05" y2="513.11" stroke="#6a6290" stroke-width="0.80"/>
<line x1="148.85" y1="511.91" x2="151.25" y2="511.91" stroke="#6a6290" stroke-width="0.80"/>
<rect x="154.65" y="511.87" width="5.20" height="4.63" fill="#36a534"/>
<line x1="157.25" y1="510.67" x2="157.25" y2="511.87" stroke="#2e4a2e" stroke-width="0.80"/>
<line x1="156.05" y1="510.67" x2="158.45" y2="510.67" stroke="#2e4a2e" stroke-width="0.80"/>
<line x1="153.75" y1="516.50" x2="153.75" y2="519.90" stroke="#1e1e1e" stroke-width="0.90"/>
<rect x="167.00" y="511.07" width="5.20" height="5.43" fill="#9688c8"/>
<line x1="169.60" y1="509.87" x2="169.60" y2="511.07" stroke="#6a6290" stroke-width="0.80"/>
<line x1="168.40" y1="509.87" x2="170.80" y2="509.87" stroke="#6a6290" stroke-width="0.80"/>
<rect x="174.20" y="509.71" width="5.20" height="6.79" fill="#36a534"/>
<line x1="176.80" y1="508.51" x2="176.80" y2="509.71" stroke="#2e4a2e" stroke-width="0.80"/>
<line x1="175.60" y1="508.51" x2="178.00" y2="508.51" stroke="#2e4a2e" stroke-width="0.80"/>
<line x1="173.30" y1="516.50" x2="173.30" y2="519.90" stroke="#1e1e1e" stroke-width="0.90"/>
<rect x="186.55" y="506.75" width="5.20" height="9.75" fill="#9688c8"/>
<line x1="189.15" y1="505.55" x2="189.15" y2="506.75" stroke="#6a6290" stroke-width="0.80"/>
<line x1="187.95" y1="505.55" x2="190.35" y2="505.55" stroke="#6a6290" stroke-width="0.80"/>
<rect x="193.75" y="493.98" width="5.20" height="22.52" fill="#36a534"/>
<line x1="196.35" y1="492.78" x2="196.35" y2="493.98" stroke="#2e4a2e" stroke-width="0.80"/>
<line x1="195.15" y1="492.78" x2="197.55" y2="492.78" stroke="#2e4a2e" stroke-width="0.80"/>
<circle cx="194.85" cy="487.98" r="0.90" fill="#262626"/><circle cx="197.85" cy="487.98" r="0.90" fill="#262626"/>
<line x1="192.85" y1="516.50" x2="192.85" y2="519.90" stroke="#1e1e1e" stroke-width="0.90"/>
<rect x="206.10" y="494.90" width="5.20" height="21.59" fill="#9688c8"/>
<line x1="208.70" y1="493.70" x2="208.70" y2="494.90" stroke="#6a6290" stroke-width="0.80"/>
<line x1="207.50" y1="493.70" x2="209.90" y2="493.70" stroke="#6a6290" stroke-width="0.80"/>
<rect x="213.30" y="459.00" width="5.20" height="57.50" fill="#36a534"/>
<line x1="215.90" y1="456.70" x2="215.90" y2="459.00" stroke="#2e4a2e" stroke-width="0.80"/>
<line x1="214.70" y1="456.70" x2="217.10" y2="456.70" stroke="#2e4a2e" stroke-width="0.80"/>
<circle cx="212.90" cy="453.00" r="0.90" fill="#262626"/><circle cx="215.90" cy="453.00" r="0.90" fill="#262626"/><circle cx="218.90" cy="453.00" r="0.90" fill="#262626"/>
<line x1="212.40" y1="516.50" x2="212.40" y2="519.90" stroke="#1e1e1e" stroke-width="0.90"/>
<rect x="225.65" y="485.22" width="5.20" height="31.28" fill="#9688c8"/>
<line x1="228.25" y1="483.97" x2="228.25" y2="485.22" stroke="#6a6290" stroke-width="0.80"/>
<line x1="227.05" y1="483.97" x2="229.45" y2="483.97" stroke="#6a6290" stroke-width="0.80"/>
<rect x="232.85" y="452.83" width="5.20" height="63.67" fill="#36a534"/>
<line x1="235.45" y1="450.28" x2="235.45" y2="452.83" stroke="#2e4a2e" stroke-width="0.80"/>
<line x1="234.25" y1="450.28" x2="236.65" y2="450.28" stroke="#2e4a2e" stroke-width="0.80"/>
<circle cx="232.45" cy="446.83" r="0.90" fill="#262626"/><circle cx="235.45" cy="446.83" r="0.90" fill="#262626"/><circle cx="238.45" cy="446.83" r="0.90" fill="#262626"/>
<line x1="231.95" y1="516.50" x2="231.95" y2="519.90" stroke="#1e1e1e" stroke-width="0.90"/>
<rect x="245.20" y="479.17" width="5.20" height="37.33" fill="#9688c8"/>
<line x1="247.80" y1="477.68" x2="247.80" y2="479.17" stroke="#6a6290" stroke-width="0.80"/>
<line x1="246.60" y1="477.68" x2="249.00" y2="477.68" stroke="#6a6290" stroke-width="0.80"/>
<rect x="252.40" y="448.32" width="5.20" height="68.18" fill="#36a534"/>
<line x1="255.00" y1="445.59" x2="255.00" y2="448.32" stroke="#2e4a2e" stroke-width="0.80"/>
<line x1="253.80" y1="445.59" x2="256.20" y2="445.59" stroke="#2e4a2e" stroke-width="0.80"/>
<circle cx="252.00" cy="442.32" r="0.90" fill="#262626"/><circle cx="255.00" cy="442.32" r="0.90" fill="#262626"/><circle cx="258.00" cy="442.32" r="0.90" fill="#262626"/>
<line x1="251.50" y1="516.50" x2="251.50" y2="519.90" stroke="#1e1e1e" stroke-width="0.90"/>
<line x1="125.50" y1="517.10" x2="259.30" y2="517.10" stroke="#1e1e1e" stroke-width="1.30"/>
<line x1="125.50" y1="441.96" x2="125.50" y2="517.70" stroke="#1e1e1e" stroke-width="1.10"/>
<line x1="122.70" y1="516.50" x2="125.50" y2="516.50" stroke="#1e1e1e" stroke-width="0.90"/>
<text x="119.00" y="518.80" font-size="6.60" text-anchor="end" fill="#3a3a3a" stroke="#3a3a3a" stroke-width="0.17" textLength="3.30" lengthAdjust="spacingAndGlyphs">0</text>
<line x1="122.70" y1="491.82" x2="125.50" y2="491.82" stroke="#1e1e1e" stroke-width="0.90"/>
<text x="119.00" y="494.12" font-size="6.60" text-anchor="end" fill="#3a3a3a" stroke="#3a3a3a" stroke-width="0.17" textLength="9.91" lengthAdjust="spacingAndGlyphs">400</text>
<line x1="122.70" y1="467.14" x2="125.50" y2="467.14" stroke="#1e1e1e" stroke-width="0.90"/>
<text x="119.00" y="469.44" font-size="6.60" text-anchor="end" fill="#3a3a3a" stroke="#3a3a3a" stroke-width="0.17" textLength="9.91" lengthAdjust="spacingAndGlyphs">800</text>
<line x1="122.70" y1="442.46" x2="125.50" y2="442.46" stroke="#1e1e1e" stroke-width="0.90"/>
<text x="119.00" y="444.76" font-size="6.60" text-anchor="end" fill="#3a3a3a" stroke="#3a3a3a" stroke-width="0.17" textLength="13.21" lengthAdjust="spacingAndGlyphs">1200</text>
<text transform="translate(99.60 478.50) rotate(-90)" font-size="6.90" text-anchor="middle" fill="#262626" stroke="#262626" stroke-width="0.18" textLength="64.40" lengthAdjust="spacingAndGlyphs">NFκB reporter activity</text>
<text transform="translate(137.50 526.50) rotate(-45)" font-size="7.00" text-anchor="end" fill="#3a3a3a" stroke="#3a3a3a" stroke-width="0.18" textLength="3.70" lengthAdjust="spacingAndGlyphs">0</text>
<text transform="translate(157.05 526.50) rotate(-45)" font-size="7.00" text-anchor="end" fill="#3a3a3a" stroke="#3a3a3a" stroke-width="0.18" textLength="20.34" lengthAdjust="spacingAndGlyphs">0.0246</text>
<text transform="translate(176.60 526.50) rotate(-45)" font-size="7.00" text-anchor="end" fill="#3a3a3a" stroke="#3a3a3a" stroke-width="0.18" textLength="16.64" lengthAdjust="spacingAndGlyphs">0.074</text>
<text transform="translate(196.15 526.50) rotate(-45)" font-size="7.00" text-anchor="end" fill="#3a3a3a" stroke="#3a3a3a" stroke-width="0.18" textLength="12.94" lengthAdjust="spacingAndGlyphs">0.22</text>
<text transform="translate(215.70 526.50) rotate(-45)" font-size="7.00" text-anchor="end" fill="#3a3a3a" stroke="#3a3a3a" stroke-width="0.18" textLength="12.94" lengthAdjust="spacingAndGlyphs">0.67</text>
<text transform="translate(235.25 526.50) rotate(-45)" font-size="7.00" text-anchor="end" fill="#3a3a3a" stroke="#3a3a3a" stroke-width="0.18" textLength="12.94" lengthAdjust="spacingAndGlyphs">2.00</text>
<text transform="translate(254.80 526.50) rotate(-45)" font-size="7.00" text-anchor="end" fill="#3a3a3a" stroke="#3a3a3a" stroke-width="0.18" textLength="12.94" lengthAdjust="spacingAndGlyphs">6.00</text>
<text x="192.70" y="435.00" font-size="10.00" text-anchor="middle" fill="#262626" stroke="#262626" stroke-width="0.26" textLength="10.00" lengthAdjust="spacingAndGlyphs">RL</text>
<rect x="131.90" y="443.30" width="5.80" height="5.50" fill="#36a534"/>
<rect x="131.90" y="453.90" width="5.80" height="5.40" fill="#9688c8"/>
<text x="140.90" y="447.90" font-size="6.40" fill="#262626" stroke="#262626" stroke-width="0.16" textLength="9.30" lengthAdjust="spacingAndGlyphs">WT</text>
<text x="140.90" y="458.50" font-size="6.40" fill="#262626" stroke="#262626" stroke-width="0.16" textLength="23.10" lengthAdjust="spacingAndGlyphs">Y1503C</text>
<rect x="304.70" y="513.51" width="5.20" height="2.79" fill="#9688c8"/>
<line x1="307.30" y1="512.31" x2="307.30" y2="513.51" stroke="#6a6290" stroke-width="0.80"/>
<line x1="306.10" y1="512.31" x2="308.50" y2="512.31" stroke="#6a6290" stroke-width="0.80"/>
<rect x="311.90" y="512.77" width="5.20" height="3.53" fill="#36a534"/>
<line x1="314.50" y1="511.57" x2="314.50" y2="512.77" stroke="#2e4a2e" stroke-width="0.80"/>
<line x1="313.30" y1="511.57" x2="315.70" y2="511.57" stroke="#2e4a2e" stroke-width="0.80"/>
<line x1="311.00" y1="516.30" x2="311.00" y2="519.70" stroke="#1e1e1e" stroke-width="0.90"/>
<rect x="324.15" y="511.91" width="5.20" height="4.39" fill="#9688c8"/>
<line x1="326.75" y1="510.71" x2="326.75" y2="511.91" stroke="#6a6290" stroke-width="0.80"/>
<line x1="325.55" y1="510.71" x2="327.95" y2="510.71" stroke="#6a6290" stroke-width="0.80"/>
<rect x="331.35" y="511.46" width="5.20" height="4.84" fill="#36a534"/>
<line x1="333.95" y1="510.26" x2="333.95" y2="511.46" stroke="#2e4a2e" stroke-width="0.80"/>
<line x1="332.75" y1="510.26" x2="335.15" y2="510.26" stroke="#2e4a2e" stroke-width="0.80"/>
<line x1="330.45" y1="516.30" x2="330.45" y2="519.70" stroke="#1e1e1e" stroke-width="0.90"/>
<rect x="343.60" y="509.90" width="5.20" height="6.40" fill="#9688c8"/>
<line x1="346.20" y1="508.70" x2="346.20" y2="509.90" stroke="#6a6290" stroke-width="0.80"/>
<line x1="345.00" y1="508.70" x2="347.40" y2="508.70" stroke="#6a6290" stroke-width="0.80"/>
<rect x="350.80" y="506.55" width="5.20" height="9.75" fill="#36a534"/>
<line x1="353.40" y1="505.35" x2="353.40" y2="506.55" stroke="#2e4a2e" stroke-width="0.80"/>
<line x1="352.20" y1="505.35" x2="354.60" y2="505.35" stroke="#2e4a2e" stroke-width="0.80"/>
<circle cx="350.40" cy="500.55" r="0.90" fill="#262626"/><circle cx="353.40" cy="500.55" r="0.90" fill="#262626"/><circle cx="356.40" cy="500.55" r="0.90" fill="#262626"/>
<line x1="349.90" y1="516.30" x2="349.90" y2="519.70" stroke="#1e1e1e" stroke-width="0.90"/>
<rect x="363.05" y="503.21" width="5.20" height="13.09" fill="#9688c8"/>
<line x1="365.65" y1="502.01" x2="365.65" y2="503.21" stroke="#6a6290" stroke-width="0.80"/>
<line x1="364.45" y1="502.01" x2="366.85" y2="502.01" stroke="#6a6290" stroke-width="0.80"/>
<rect x="370.25" y="489.29" width="5.20" height="27.01" fill="#36a534"/>
<line x1="372.85" y1="488.09" x2="372.85" y2="489.29" stroke="#2e4a2e" stroke-width="0.80"/>
<line x1="371.65" y1="488.09" x2="374.05" y2="488.09" stroke="#2e4a2e" stroke-width="0.80"/>
<circle cx="369.85" cy="483.29" r="0.90" fill="#262626"/><circle cx="372.85" cy="483.29" r="0.90" fill="#262626"/><circle cx="375.85" cy="483.29" r="0.90" fill="#262626"/>
<line x1="369.35" y1="516.30" x2="369.35" y2="519.70" stroke="#1e1e1e" stroke-width="0.90"/>
<rect x="382.50" y="490.71" width="5.20" height="25.59" fill="#9688c8"/>
<line x1="385.10" y1="489.51" x2="385.10" y2="490.71" stroke="#6a6290" stroke-width="0.80"/>
<line x1="383.90" y1="489.51" x2="386.30" y2="489.51" stroke="#6a6290" stroke-width="0.80"/>
<rect x="389.70" y="467.20" width="5.20" height="49.10" fill="#36a534"/>
<line x1="392.30" y1="465.23" x2="392.30" y2="467.20" stroke="#2e4a2e" stroke-width="0.80"/>
<line x1="391.10" y1="465.23" x2="393.50" y2="465.23" stroke="#2e4a2e" stroke-width="0.80"/>
<circle cx="389.30" cy="461.20" r="0.90" fill="#262626"/><circle cx="392.30" cy="461.20" r="0.90" fill="#262626"/><circle cx="395.30" cy="461.20" r="0.90" fill="#262626"/>
<line x1="388.80" y1="516.30" x2="388.80" y2="519.70" stroke="#1e1e1e" stroke-width="0.90"/>
<rect x="401.95" y="479.99" width="5.20" height="36.31" fill="#9688c8"/>
<line x1="404.55" y1="478.54" x2="404.55" y2="479.99" stroke="#6a6290" stroke-width="0.80"/>
<line x1="403.35" y1="478.54" x2="405.75" y2="478.54" stroke="#6a6290" stroke-width="0.80"/>
<rect x="409.15" y="456.11" width="5.20" height="60.19" fill="#36a534"/>
<line x1="411.75" y1="453.70" x2="411.75" y2="456.11" stroke="#2e4a2e" stroke-width="0.80"/>
<line x1="410.55" y1="453.70" x2="412.95" y2="453.70" stroke="#2e4a2e" stroke-width="0.80"/>
<circle cx="408.75" cy="450.11" r="0.90" fill="#262626"/><circle cx="411.75" cy="450.11" r="0.90" fill="#262626"/><circle cx="414.75" cy="450.11" r="0.90" fill="#262626"/>
<line x1="408.25" y1="516.30" x2="408.25" y2="519.70" stroke="#1e1e1e" stroke-width="0.90"/>
<rect x="421.40" y="461.69" width="5.20" height="54.61" fill="#9688c8"/>
<line x1="424.00" y1="459.51" x2="424.00" y2="461.69" stroke="#6a6290" stroke-width="0.80"/>
<line x1="422.80" y1="459.51" x2="425.20" y2="459.51" stroke="#6a6290" stroke-width="0.80"/>
<rect x="428.60" y="452.02" width="5.20" height="64.28" fill="#36a534"/>
<line x1="431.20" y1="449.45" x2="431.20" y2="452.02" stroke="#2e4a2e" stroke-width="0.80"/>
<line x1="430.00" y1="449.45" x2="432.40" y2="449.45" stroke="#2e4a2e" stroke-width="0.80"/>
<circle cx="428.20" cy="446.02" r="0.90" fill="#262626"/><circle cx="431.20" cy="446.02" r="0.90" fill="#262626"/><circle cx="434.20" cy="446.02" r="0.90" fill="#262626"/>
<line x1="427.70" y1="516.30" x2="427.70" y2="519.70" stroke="#1e1e1e" stroke-width="0.90"/>
<line x1="301.80" y1="516.90" x2="436.40" y2="516.90" stroke="#1e1e1e" stroke-width="1.30"/>
<line x1="301.80" y1="441.40" x2="301.80" y2="517.50" stroke="#1e1e1e" stroke-width="1.10"/>
<line x1="299.00" y1="516.30" x2="301.80" y2="516.30" stroke="#1e1e1e" stroke-width="0.90"/>
<text x="296.90" y="518.60" font-size="6.60" text-anchor="end" fill="#3a3a3a" stroke="#3a3a3a" stroke-width="0.17" textLength="3.30" lengthAdjust="spacingAndGlyphs">0</text>
<line x1="299.00" y1="497.70" x2="301.80" y2="497.70" stroke="#1e1e1e" stroke-width="0.90"/>
<text x="296.90" y="500.00" font-size="6.60" text-anchor="end" fill="#3a3a3a" stroke="#3a3a3a" stroke-width="0.17" textLength="9.91" lengthAdjust="spacingAndGlyphs">500</text>
<line x1="299.00" y1="479.10" x2="301.80" y2="479.10" stroke="#1e1e1e" stroke-width="0.90"/>
<text x="296.90" y="481.40" font-size="6.60" text-anchor="end" fill="#3a3a3a" stroke="#3a3a3a" stroke-width="0.17" textLength="13.21" lengthAdjust="spacingAndGlyphs">1000</text>
<line x1="299.00" y1="460.50" x2="301.80" y2="460.50" stroke="#1e1e1e" stroke-width="0.90"/>
<text x="296.90" y="462.80" font-size="6.60" text-anchor="end" fill="#3a3a3a" stroke="#3a3a3a" stroke-width="0.17" textLength="13.21" lengthAdjust="spacingAndGlyphs">1500</text>
<line x1="299.00" y1="441.90" x2="301.80" y2="441.90" stroke="#1e1e1e" stroke-width="0.90"/>
<text x="296.90" y="444.20" font-size="6.60" text-anchor="end" fill="#3a3a3a" stroke="#3a3a3a" stroke-width="0.17" textLength="13.21" lengthAdjust="spacingAndGlyphs">2000</text>
<text transform="translate(276.80 478.30) rotate(-90)" font-size="6.90" text-anchor="middle" fill="#262626" stroke="#262626" stroke-width="0.18" textLength="65.70" lengthAdjust="spacingAndGlyphs">NFκB reporter activity</text>
<text transform="translate(314.30 526.30) rotate(-45)" font-size="7.00" text-anchor="end" fill="#3a3a3a" stroke="#3a3a3a" stroke-width="0.18" textLength="3.70" lengthAdjust="spacingAndGlyphs">0</text>
<text transform="translate(333.75 526.30) rotate(-45)" font-size="7.00" text-anchor="end" fill="#3a3a3a" stroke="#3a3a3a" stroke-width="0.18" textLength="20.34" lengthAdjust="spacingAndGlyphs">0.0246</text>
<text transform="translate(353.20 526.30) rotate(-45)" font-size="7.00" text-anchor="end" fill="#3a3a3a" stroke="#3a3a3a" stroke-width="0.18" textLength="16.64" lengthAdjust="spacingAndGlyphs">0.074</text>
<text transform="translate(372.65 526.30) rotate(-45)" font-size="7.00" text-anchor="end" fill="#3a3a3a" stroke="#3a3a3a" stroke-width="0.18" textLength="12.94" lengthAdjust="spacingAndGlyphs">0.22</text>
<text transform="translate(392.10 526.30) rotate(-45)" font-size="7.00" text-anchor="end" fill="#3a3a3a" stroke="#3a3a3a" stroke-width="0.18" textLength="12.94" lengthAdjust="spacingAndGlyphs">0.67</text>
<text transform="translate(411.55 526.30) rotate(-45)" font-size="7.00" text-anchor="end" fill="#3a3a3a" stroke="#3a3a3a" stroke-width="0.18" textLength="12.94" lengthAdjust="spacingAndGlyphs">2.00</text>
<text transform="translate(431.00 526.30) rotate(-45)" font-size="7.00" text-anchor="end" fill="#3a3a3a" stroke="#3a3a3a" stroke-width="0.18" textLength="12.94" lengthAdjust="spacingAndGlyphs">6.00</text>
<text x="369.30" y="435.00" font-size="10.00" text-anchor="middle" fill="#262626" stroke="#262626" stroke-width="0.26" textLength="10.50" lengthAdjust="spacingAndGlyphs">HT</text>
<rect x="308.50" y="443.30" width="5.80" height="5.50" fill="#36a534"/>
<rect x="308.50" y="453.90" width="5.80" height="5.40" fill="#9688c8"/>
<text x="317.50" y="447.90" font-size="6.40" fill="#262626" stroke="#262626" stroke-width="0.16" textLength="9.30" lengthAdjust="spacingAndGlyphs">WT</text>
<text x="317.50" y="458.50" font-size="6.40" fill="#262626" stroke="#262626" stroke-width="0.16" textLength="23.10" lengthAdjust="spacingAndGlyphs">Y1503C</text>
<text x="281.20" y="551.40" font-size="8.80" text-anchor="middle" fill="#262626" stroke="#262626" stroke-width="0.23" textLength="87.70" lengthAdjust="spacingAndGlyphs">CD40L concentration (ng/mL)</text>
<rect x="0.5" y="0.5" width="519" height="560" fill="none" stroke="#262626" stroke-width="1.2"/>
</svg>
</body></html>
